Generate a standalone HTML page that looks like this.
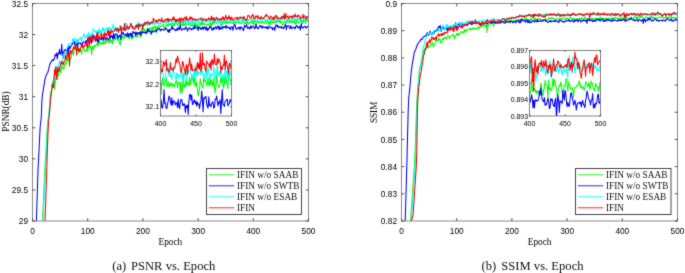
<!DOCTYPE html>
<html><head><meta charset="utf-8"><style>
html,body{margin:0;padding:0;background:#fff;}
body{width:685px;height:273px;overflow:hidden;}
svg{display:block;}
#w{width:685px;height:273px;will-change:transform;}
.s{font-family:"Liberation Sans",sans-serif;}
.t{font-family:"Liberation Serif",serif;}
</style></head><body><div id="w">
<svg width="685" height="273" viewBox="0 0 685 273">
<defs>
<clipPath id="cl"><rect x="32.5" y="3.5" width="276" height="217.5"/></clipPath>
<clipPath id="cr"><rect x="401.5" y="3.5" width="276" height="217.5"/></clipPath>
<clipPath id="cli"><rect x="160.5" y="50.5" width="71" height="65.5"/></clipPath>
<clipPath id="cri"><rect x="529.5" y="50.5" width="71" height="65.5"/></clipPath>
<filter id="soft" filterUnits="userSpaceOnUse" x="0" y="0" width="685" height="273" color-interpolation-filters="sRGB"><feConvolveMatrix order="3" kernelMatrix="0.0200 0.0800 0.0200 0.0800 0.6000 0.0800 0.0200 0.0800 0.0200" edgeMode="duplicate"/></filter>
</defs>
<rect width="685" height="273" fill="#fff"/>
<g filter="url(#soft)">
<rect width="685" height="273" fill="#fff"/>

<g clip-path="url(#cl)" fill="none" stroke-width="1.05" stroke-linejoin="round">
<polyline stroke="#00ff00" points="33.05,430.51 33.60,418.10 34.16,406.16 34.71,393.46 35.26,381.69 35.81,369.42 36.36,357.04 36.92,344.44 37.47,331.82 38.02,319.65 38.57,308.26 39.12,295.97 39.68,283.75 40.23,271.19 40.78,259.59 41.33,246.52 41.88,234.79 42.44,222.63 42.99,210.64 43.54,198.34 44.09,185.70 44.64,173.46 45.20,163.69 45.75,154.41 46.30,144.56 46.85,135.25 47.40,126.22 47.96,121.03 48.51,118.03 49.06,114.12 49.61,110.08 50.16,96.12 50.72,92.84 51.27,90.75 51.82,89.38 52.37,83.40 52.92,84.48 53.48,85.16 54.03,81.41 54.58,89.31 55.13,83.81 55.68,79.09 56.24,78.17 56.79,78.83 57.34,78.30 57.89,75.68 58.44,75.86 59.00,70.48 59.55,69.79 60.10,68.69 60.65,73.24 61.20,67.23 61.76,69.30 62.31,66.08 62.86,67.88 63.41,67.09 63.96,69.09 64.52,64.36 65.07,64.61 65.62,62.24 66.17,64.29 66.72,59.46 67.28,58.86 67.83,60.79 68.38,58.25 68.93,55.92 69.48,64.57 70.04,60.42 70.59,59.04 71.14,58.28 71.69,54.52 72.24,52.57 72.80,51.13 73.35,55.07 73.90,51.40 74.45,46.73 75.00,48.00 75.56,48.92 76.11,50.40 76.66,46.36 77.21,48.65 77.76,46.34 78.32,48.45 78.87,53.30 79.42,51.12 79.97,48.18 80.52,50.62 81.08,51.35 81.63,54.20 82.18,49.49 82.73,50.00 83.28,47.10 83.84,49.09 84.39,49.05 84.94,51.36 85.49,50.80 86.04,51.80 86.60,49.74 87.15,47.18 87.70,51.12 88.25,47.81 88.80,45.59 89.36,44.82 89.91,47.67 90.46,48.09 91.01,45.45 91.56,54.80 92.12,47.31 92.67,46.77 93.22,49.88 93.77,46.12 94.32,45.54 94.88,47.12 95.43,45.99 95.98,44.70 96.53,44.60 97.08,43.57 97.64,46.02 98.19,39.38 98.74,45.16 99.29,38.60 99.84,42.83 100.40,43.99 100.95,42.57 101.50,42.77 102.05,44.08 102.60,42.24 103.16,44.14 103.71,41.35 104.26,43.86 104.81,42.24 105.36,42.92 105.92,41.15 106.47,42.10 107.02,40.42 107.57,39.71 108.12,42.27 108.68,43.11 109.23,42.26 109.78,40.53 110.33,37.91 110.88,42.52 111.44,40.43 111.99,40.83 112.54,43.90 113.09,39.83 113.64,40.66 114.20,36.75 114.75,35.58 115.30,39.77 115.85,37.98 116.40,38.27 116.96,39.02 117.51,35.44 118.06,41.02 118.61,37.64 119.16,41.26 119.72,44.00 120.27,45.14 120.82,40.08 121.37,40.32 121.92,36.15 122.48,35.52 123.03,38.75 123.58,36.00 124.13,36.84 124.68,37.97 125.24,37.21 125.79,35.43 126.34,35.36 126.89,36.44 127.44,36.24 128.00,38.17 128.55,35.39 129.10,38.44 129.65,38.52 130.20,35.68 130.76,36.43 131.31,34.40 131.86,36.57 132.41,38.72 132.96,36.88 133.52,37.29 134.07,36.35 134.62,35.66 135.17,35.39 135.72,36.66 136.28,37.49 136.83,36.53 137.38,36.84 137.93,33.47 138.48,34.14 139.04,32.30 139.59,34.68 140.14,37.40 140.69,34.96 141.24,30.28 141.80,27.97 142.35,29.81 142.90,30.22 143.45,29.16 144.00,29.02 144.56,29.27 145.11,33.87 145.66,30.11 146.21,31.57 146.76,31.70 147.32,28.34 147.87,31.84 148.42,29.28 148.97,28.88 149.52,29.36 150.08,28.27 150.63,27.58 151.18,31.16 151.73,31.92 152.28,27.06 152.84,31.29 153.39,28.95 153.94,26.53 154.49,27.94 155.04,26.18 155.60,28.27 156.15,27.17 156.70,33.28 157.25,26.39 157.80,28.64 158.36,27.79 158.91,25.61 159.46,25.96 160.01,26.32 160.56,26.88 161.12,26.22 161.67,25.86 162.22,24.84 162.77,25.12 163.32,24.57 163.88,27.08 164.43,28.45 164.98,27.39 165.53,26.04 166.08,25.40 166.64,24.38 167.19,24.25 167.74,27.02 168.29,25.02 168.84,23.55 169.40,24.10 169.95,25.41 170.50,23.63 171.05,24.70 171.60,24.45 172.16,27.01 172.71,26.44 173.26,23.79 173.81,26.34 174.36,23.31 174.92,24.44 175.47,22.24 176.02,22.25 176.57,22.63 177.12,22.84 177.68,26.25 178.23,23.99 178.78,23.55 179.33,22.63 179.88,25.74 180.44,24.56 180.99,24.99 181.54,23.67 182.09,25.06 182.64,25.32 183.20,21.22 183.75,26.02 184.30,25.49 184.85,23.99 185.40,23.26 185.96,25.09 186.51,24.75 187.06,25.09 187.61,24.65 188.16,24.67 188.72,23.36 189.27,22.13 189.82,22.83 190.37,26.07 190.92,24.93 191.48,24.58 192.03,25.84 192.58,24.35 193.13,27.15 193.68,24.88 194.24,24.62 194.79,24.24 195.34,22.34 195.89,25.16 196.44,26.41 197.00,23.93 197.55,27.38 198.10,25.93 198.65,26.96 199.20,24.74 199.76,24.02 200.31,23.18 200.86,25.64 201.41,23.31 201.96,20.49 202.52,24.59 203.07,22.97 203.62,23.03 204.17,24.86 204.72,23.63 205.28,23.90 205.83,24.46 206.38,25.12 206.93,25.39 207.48,24.26 208.04,24.83 208.59,24.46 209.14,25.48 209.69,23.31 210.24,24.72 210.80,22.29 211.35,25.86 211.90,25.16 212.45,22.34 213.00,23.84 213.56,20.62 214.11,23.44 214.66,20.07 215.21,22.29 215.76,21.44 216.32,23.15 216.87,23.02 217.42,22.92 217.97,23.07 218.52,21.57 219.08,19.94 219.63,19.38 220.18,22.75 220.73,26.45 221.28,23.85 221.84,24.62 222.39,24.36 222.94,22.54 223.49,22.77 224.04,21.49 224.60,22.88 225.15,23.61 225.70,22.38 226.25,20.82 226.80,23.69 227.36,23.26 227.91,21.70 228.46,22.37 229.01,23.27 229.56,23.19 230.12,22.29 230.67,21.70 231.22,22.96 231.77,23.04 232.32,22.44 232.88,22.43 233.43,24.17 233.98,21.91 234.53,22.81 235.08,23.61 235.64,22.14 236.19,21.13 236.74,22.38 237.29,22.63 237.84,22.28 238.40,22.77 238.95,21.26 239.50,23.42 240.05,22.36 240.60,22.86 241.16,23.65 241.71,23.40 242.26,23.13 242.81,22.35 243.36,21.97 243.92,21.71 244.47,22.82 245.02,22.45 245.57,24.06 246.12,22.81 246.68,23.60 247.23,21.58 247.78,21.54 248.33,24.38 248.88,23.08 249.44,23.03 249.99,21.72 250.54,21.77 251.09,22.27 251.64,21.91 252.20,23.51 252.75,21.57 253.30,20.69 253.85,25.06 254.40,21.91 254.96,20.42 255.51,21.83 256.06,22.68 256.61,21.75 257.16,21.51 257.72,20.32 258.27,22.81 258.82,22.68 259.37,21.55 259.92,22.98 260.48,22.90 261.03,21.80 261.58,22.48 262.13,21.89 262.68,22.95 263.24,22.14 263.79,22.35 264.34,22.92 264.89,21.98 265.44,21.16 266.00,21.48 266.55,23.14 267.10,21.64 267.65,21.76 268.20,21.81 268.76,24.82 269.31,21.48 269.86,23.91 270.41,24.36 270.96,19.11 271.52,23.02 272.07,22.37 272.62,23.08 273.17,20.60 273.72,22.61 274.28,21.76 274.83,21.72 275.38,22.62 275.93,20.27 276.48,22.33 277.04,21.60 277.59,20.01 278.14,21.15 278.69,20.44 279.24,22.23 279.80,18.71 280.35,22.89 280.90,22.60 281.45,21.47 282.00,23.50 282.56,25.40 283.11,24.60 283.66,23.35 284.21,20.66 284.76,22.08 285.32,22.29 285.87,22.99 286.42,23.18 286.97,19.79 287.52,21.42 288.08,21.12 288.63,21.53 289.18,22.66 289.73,21.99 290.28,20.49 290.84,22.42 291.39,22.62 291.94,20.92 292.49,22.35 293.04,20.88 293.60,22.02 294.15,22.83 294.70,20.38 295.25,23.25 295.80,24.58 296.36,21.89 296.91,19.33 297.46,22.30 298.01,22.40 298.56,23.12 299.12,22.78 299.67,22.02 300.22,20.16 300.77,21.66 301.32,20.57 301.88,22.45 302.43,23.36 302.98,20.45 303.53,22.16 304.08,19.89 304.64,21.97 305.19,21.90 305.74,23.51 306.29,18.55 306.84,19.85 307.40,20.71 307.95,21.57 308.50,21.82"/>
<polyline stroke="#0000ff" points="33.05,328.19 33.60,310.08 34.16,292.61 34.71,275.15 35.26,257.36 35.81,239.25 36.36,221.95 36.92,204.73 37.47,187.29 38.02,169.47 38.57,159.80 39.12,148.84 39.68,136.25 40.23,126.02 40.78,121.52 41.33,116.57 41.88,101.18 42.44,94.89 42.99,91.46 43.54,88.16 44.09,84.95 44.64,81.20 45.20,78.36 45.75,76.58 46.30,75.20 46.85,73.95 47.40,73.07 47.96,71.86 48.51,69.52 49.06,67.37 49.61,65.33 50.16,63.68 50.72,62.29 51.27,61.71 51.82,61.23 52.37,59.74 52.92,59.53 53.48,60.46 54.03,59.15 54.58,58.56 55.13,54.31 55.68,55.63 56.24,55.67 56.79,52.82 57.34,58.93 57.89,55.05 58.44,52.88 59.00,53.09 59.55,49.27 60.10,54.50 60.65,53.38 61.20,51.64 61.76,44.25 62.31,55.23 62.86,52.38 63.41,57.95 63.96,51.18 64.52,49.74 65.07,50.21 65.62,50.66 66.17,49.34 66.72,50.64 67.28,50.96 67.83,46.77 68.38,54.22 68.93,45.55 69.48,48.10 70.04,48.75 70.59,46.27 71.14,46.32 71.69,45.49 72.24,44.33 72.80,42.86 73.35,42.86 73.90,43.20 74.45,41.57 75.00,45.49 75.56,46.85 76.11,44.76 76.66,43.94 77.21,41.70 77.76,46.63 78.32,42.72 78.87,43.07 79.42,42.93 79.97,42.99 80.52,44.14 81.08,43.00 81.63,46.10 82.18,47.10 82.73,42.47 83.28,41.81 83.84,42.01 84.39,42.26 84.94,42.17 85.49,42.63 86.04,40.36 86.60,42.55 87.15,41.19 87.70,38.71 88.25,39.43 88.80,41.16 89.36,39.43 89.91,37.36 90.46,39.27 91.01,41.48 91.56,43.30 92.12,37.41 92.67,33.82 93.22,36.98 93.77,38.45 94.32,38.18 94.88,38.32 95.43,41.39 95.98,40.67 96.53,38.85 97.08,36.87 97.64,42.15 98.19,42.13 98.74,39.54 99.29,37.25 99.84,37.68 100.40,39.11 100.95,38.77 101.50,39.89 102.05,36.21 102.60,37.22 103.16,40.57 103.71,37.45 104.26,37.40 104.81,37.75 105.36,40.32 105.92,38.30 106.47,38.86 107.02,37.53 107.57,38.90 108.12,39.26 108.68,40.10 109.23,38.77 109.78,35.01 110.33,37.46 110.88,37.07 111.44,36.03 111.99,35.39 112.54,38.96 113.09,37.81 113.64,33.35 114.20,38.72 114.75,36.88 115.30,34.27 115.85,34.17 116.40,34.52 116.96,33.78 117.51,38.26 118.06,37.69 118.61,35.88 119.16,36.67 119.72,35.24 120.27,36.51 120.82,39.44 121.37,32.49 121.92,34.14 122.48,33.23 123.03,31.96 123.58,34.04 124.13,34.39 124.68,35.16 125.24,34.31 125.79,34.18 126.34,35.59 126.89,36.60 127.44,32.69 128.00,34.33 128.55,36.75 129.10,33.79 129.65,33.87 130.20,35.50 130.76,33.12 131.31,34.06 131.86,37.93 132.41,34.98 132.96,31.25 133.52,32.17 134.07,33.29 134.62,33.35 135.17,31.89 135.72,35.63 136.28,33.58 136.83,32.22 137.38,34.68 137.93,32.96 138.48,32.69 139.04,33.06 139.59,33.58 140.14,31.70 140.69,33.89 141.24,35.47 141.80,31.78 142.35,32.83 142.90,31.35 143.45,32.54 144.00,32.41 144.56,32.34 145.11,32.80 145.66,32.14 146.21,32.36 146.76,33.40 147.32,31.73 147.87,28.41 148.42,31.63 148.97,30.37 149.52,31.14 150.08,31.02 150.63,32.44 151.18,34.26 151.73,32.29 152.28,31.06 152.84,31.71 153.39,32.18 153.94,31.43 154.49,31.29 155.04,30.41 155.60,30.03 156.15,31.73 156.70,30.86 157.25,29.46 157.80,29.01 158.36,28.89 158.91,29.03 159.46,28.45 160.01,30.02 160.56,30.91 161.12,29.15 161.67,29.81 162.22,29.96 162.77,29.46 163.32,29.23 163.88,30.07 164.43,29.95 164.98,29.89 165.53,27.80 166.08,28.78 166.64,28.84 167.19,29.93 167.74,31.42 168.29,31.85 168.84,29.42 169.40,32.35 169.95,29.82 170.50,29.56 171.05,29.77 171.60,27.04 172.16,26.54 172.71,29.22 173.26,28.59 173.81,28.43 174.36,29.63 174.92,30.08 175.47,30.75 176.02,29.60 176.57,30.22 177.12,28.28 177.68,30.28 178.23,27.64 178.78,28.14 179.33,29.67 179.88,27.04 180.44,25.37 180.99,29.23 181.54,30.10 182.09,29.72 182.64,28.84 183.20,29.02 183.75,28.74 184.30,29.47 184.85,29.56 185.40,27.20 185.96,26.97 186.51,28.35 187.06,29.10 187.61,31.12 188.16,28.58 188.72,28.70 189.27,27.74 189.82,27.71 190.37,29.23 190.92,29.16 191.48,29.79 192.03,28.41 192.58,28.99 193.13,29.20 193.68,27.30 194.24,28.57 194.79,25.22 195.34,28.10 195.89,28.24 196.44,28.15 197.00,27.77 197.55,27.03 198.10,30.50 198.65,28.66 199.20,26.88 199.76,27.98 200.31,27.72 200.86,29.37 201.41,29.32 201.96,27.75 202.52,27.23 203.07,29.62 203.62,27.27 204.17,27.89 204.72,26.82 205.28,28.27 205.83,29.87 206.38,26.77 206.93,29.05 207.48,30.69 208.04,28.58 208.59,29.50 209.14,28.02 209.69,26.54 210.24,27.50 210.80,26.37 211.35,28.21 211.90,29.95 212.45,28.63 213.00,30.06 213.56,27.47 214.11,28.97 214.66,28.93 215.21,27.32 215.76,26.63 216.32,28.31 216.87,28.90 217.42,26.43 217.97,25.96 218.52,26.89 219.08,29.62 219.63,26.73 220.18,29.26 220.73,27.88 221.28,28.41 221.84,28.91 222.39,26.35 222.94,28.17 223.49,26.94 224.04,26.73 224.60,27.19 225.15,26.21 225.70,28.20 226.25,25.52 226.80,27.90 227.36,27.45 227.91,26.95 228.46,28.02 229.01,27.96 229.56,27.13 230.12,29.54 230.67,29.34 231.22,26.87 231.77,26.65 232.32,26.83 232.88,30.34 233.43,27.94 233.98,26.18 234.53,24.70 235.08,24.52 235.64,28.15 236.19,29.06 236.74,29.40 237.29,27.82 237.84,27.69 238.40,28.47 238.95,27.48 239.50,27.08 240.05,29.87 240.60,27.04 241.16,26.99 241.71,28.09 242.26,27.99 242.81,28.97 243.36,30.75 243.92,28.80 244.47,25.13 245.02,26.89 245.57,26.90 246.12,26.67 246.68,24.64 247.23,27.19 247.78,28.59 248.33,28.08 248.88,27.01 249.44,28.09 249.99,29.05 250.54,26.45 251.09,25.77 251.64,28.12 252.20,27.31 252.75,26.77 253.30,26.17 253.85,26.71 254.40,28.66 254.96,28.71 255.51,27.08 256.06,23.67 256.61,27.38 257.16,27.25 257.72,28.83 258.27,28.75 258.82,27.53 259.37,26.65 259.92,25.44 260.48,25.75 261.03,26.99 261.58,27.89 262.13,25.89 262.68,27.96 263.24,27.00 263.79,26.71 264.34,27.01 264.89,27.83 265.44,27.24 266.00,27.29 266.55,28.52 267.10,26.30 267.65,28.27 268.20,28.87 268.76,27.01 269.31,26.39 269.86,26.37 270.41,27.77 270.96,28.03 271.52,27.51 272.07,27.62 272.62,29.89 273.17,28.01 273.72,28.54 274.28,27.85 274.83,30.47 275.38,26.77 275.93,24.99 276.48,25.01 277.04,26.56 277.59,25.12 278.14,27.75 278.69,27.49 279.24,26.65 279.80,26.50 280.35,27.49 280.90,26.81 281.45,28.18 282.00,27.06 282.56,27.69 283.11,27.58 283.66,28.83 284.21,27.28 284.76,26.86 285.32,24.01 285.87,26.27 286.42,29.74 286.97,25.92 287.52,26.11 288.08,25.66 288.63,25.54 289.18,27.40 289.73,28.34 290.28,28.70 290.84,25.59 291.39,28.01 291.94,27.84 292.49,28.33 293.04,27.44 293.60,27.01 294.15,27.10 294.70,28.73 295.25,28.54 295.80,26.34 296.36,26.37 296.91,25.41 297.46,26.74 298.01,28.10 298.56,27.08 299.12,27.28 299.67,26.45 300.22,30.22 300.77,26.84 301.32,23.63 301.88,27.62 302.43,27.83 302.98,28.27 303.53,26.92 304.08,26.71 304.64,26.48 305.19,26.25 305.74,28.10 306.29,27.62 306.84,27.47 307.40,26.34 307.95,26.93 308.50,26.61"/>
<polyline stroke="#00ffff" points="33.05,414.49 33.60,403.63 34.16,392.26 34.71,382.02 35.26,370.70 35.81,360.02 36.36,348.80 36.92,338.63 37.47,327.31 38.02,316.78 38.57,305.81 39.12,295.21 39.68,284.33 40.23,273.44 40.78,263.05 41.33,251.61 41.88,240.85 42.44,229.91 42.99,218.72 43.54,208.16 44.09,197.89 44.64,186.78 45.20,175.70 45.75,165.31 46.30,155.57 46.85,143.41 47.40,129.90 47.96,122.16 48.51,115.67 49.06,109.55 49.61,105.30 50.16,101.47 50.72,96.87 51.27,93.63 51.82,90.24 52.37,81.08 52.92,85.22 53.48,82.31 54.03,77.06 54.58,73.54 55.13,78.96 55.68,77.62 56.24,66.01 56.79,69.52 57.34,67.80 57.89,68.17 58.44,64.41 59.00,63.30 59.55,60.58 60.10,63.36 60.65,66.20 61.20,67.60 61.76,61.44 62.31,61.12 62.86,59.15 63.41,53.79 63.96,53.33 64.52,56.87 65.07,57.97 65.62,52.51 66.17,52.87 66.72,49.22 67.28,47.06 67.83,47.33 68.38,44.26 68.93,44.36 69.48,44.33 70.04,43.22 70.59,44.06 71.14,43.98 71.69,42.97 72.24,41.66 72.80,38.65 73.35,42.29 73.90,38.48 74.45,38.83 75.00,38.68 75.56,42.73 76.11,41.30 76.66,39.29 77.21,43.22 77.76,39.17 78.32,41.53 78.87,39.96 79.42,39.00 79.97,37.53 80.52,37.41 81.08,39.80 81.63,41.02 82.18,36.99 82.73,37.51 83.28,37.00 83.84,33.44 84.39,35.38 84.94,35.94 85.49,38.32 86.04,36.53 86.60,36.85 87.15,34.82 87.70,36.88 88.25,33.14 88.80,32.65 89.36,36.42 89.91,35.59 90.46,34.64 91.01,34.74 91.56,36.45 92.12,35.52 92.67,31.94 93.22,28.90 93.77,30.26 94.32,30.57 94.88,31.57 95.43,32.27 95.98,30.56 96.53,32.75 97.08,33.16 97.64,31.64 98.19,30.39 98.74,34.35 99.29,28.80 99.84,33.24 100.40,30.27 100.95,33.41 101.50,32.34 102.05,30.25 102.60,27.45 103.16,30.96 103.71,28.30 104.26,30.86 104.81,35.79 105.36,29.13 105.92,29.42 106.47,28.82 107.02,27.38 107.57,30.49 108.12,31.19 108.68,27.51 109.23,27.57 109.78,29.98 110.33,28.09 110.88,29.60 111.44,31.80 111.99,28.28 112.54,28.76 113.09,23.96 113.64,26.96 114.20,29.37 114.75,28.36 115.30,31.03 115.85,28.43 116.40,31.19 116.96,31.82 117.51,29.34 118.06,28.53 118.61,29.52 119.16,28.55 119.72,25.61 120.27,31.15 120.82,26.71 121.37,26.56 121.92,27.86 122.48,29.09 123.03,30.74 123.58,27.05 124.13,24.71 124.68,24.86 125.24,25.41 125.79,23.36 126.34,26.78 126.89,29.41 127.44,23.82 128.00,30.44 128.55,28.59 129.10,29.05 129.65,27.96 130.20,26.22 130.76,23.50 131.31,23.49 131.86,25.10 132.41,26.81 132.96,26.93 133.52,27.12 134.07,26.86 134.62,27.15 135.17,25.65 135.72,25.99 136.28,24.94 136.83,25.80 137.38,25.33 137.93,21.72 138.48,24.66 139.04,25.05 139.59,23.57 140.14,26.03 140.69,24.11 141.24,26.54 141.80,25.41 142.35,25.57 142.90,23.36 143.45,25.38 144.00,25.03 144.56,25.10 145.11,22.47 145.66,24.91 146.21,24.19 146.76,23.17 147.32,25.54 147.87,25.23 148.42,23.51 148.97,24.30 149.52,24.09 150.08,22.18 150.63,22.77 151.18,23.97 151.73,23.82 152.28,24.31 152.84,22.99 153.39,19.95 153.94,22.56 154.49,24.71 155.04,22.81 155.60,23.28 156.15,23.31 156.70,23.03 157.25,23.59 157.80,22.79 158.36,23.23 158.91,24.39 159.46,22.90 160.01,22.94 160.56,23.82 161.12,24.03 161.67,20.90 162.22,20.56 162.77,21.92 163.32,21.24 163.88,22.77 164.43,22.99 164.98,21.97 165.53,23.24 166.08,22.45 166.64,21.06 167.19,22.15 167.74,18.59 168.29,23.06 168.84,21.60 169.40,21.25 169.95,20.97 170.50,20.17 171.05,20.40 171.60,24.17 172.16,25.05 172.71,21.61 173.26,22.57 173.81,20.34 174.36,20.10 174.92,20.49 175.47,21.16 176.02,20.70 176.57,23.09 177.12,22.56 177.68,21.19 178.23,23.09 178.78,19.51 179.33,21.80 179.88,19.24 180.44,20.02 180.99,21.77 181.54,20.82 182.09,23.35 182.64,21.90 183.20,21.52 183.75,20.86 184.30,20.41 184.85,22.79 185.40,21.49 185.96,20.12 186.51,22.64 187.06,22.30 187.61,20.80 188.16,20.68 188.72,21.58 189.27,24.17 189.82,23.39 190.37,22.02 190.92,24.00 191.48,20.53 192.03,21.65 192.58,24.52 193.13,22.30 193.68,23.73 194.24,21.97 194.79,18.72 195.34,20.34 195.89,19.12 196.44,21.93 197.00,21.80 197.55,21.27 198.10,20.16 198.65,23.96 199.20,22.34 199.76,22.56 200.31,19.38 200.86,19.87 201.41,19.96 201.96,20.74 202.52,18.78 203.07,18.44 203.62,21.09 204.17,20.79 204.72,21.59 205.28,20.44 205.83,19.93 206.38,20.80 206.93,22.27 207.48,20.55 208.04,21.51 208.59,20.70 209.14,21.27 209.69,21.02 210.24,21.89 210.80,19.39 211.35,20.58 211.90,21.81 212.45,20.41 213.00,20.90 213.56,17.79 214.11,19.89 214.66,19.14 215.21,21.83 215.76,22.50 216.32,18.18 216.87,18.25 217.42,19.69 217.97,20.99 218.52,22.26 219.08,21.34 219.63,21.66 220.18,21.08 220.73,23.77 221.28,20.24 221.84,22.26 222.39,21.70 222.94,21.02 223.49,21.55 224.04,19.32 224.60,20.84 225.15,19.90 225.70,21.24 226.25,20.28 226.80,20.77 227.36,19.59 227.91,21.03 228.46,20.93 229.01,22.19 229.56,22.37 230.12,19.44 230.67,18.81 231.22,20.46 231.77,20.76 232.32,20.01 232.88,20.25 233.43,22.07 233.98,20.64 234.53,21.41 235.08,20.46 235.64,20.49 236.19,20.14 236.74,19.24 237.29,20.22 237.84,19.71 238.40,19.74 238.95,20.61 239.50,23.44 240.05,19.08 240.60,18.32 241.16,19.00 241.71,20.80 242.26,21.12 242.81,17.43 243.36,18.99 243.92,21.48 244.47,19.11 245.02,19.75 245.57,21.48 246.12,19.54 246.68,19.69 247.23,18.72 247.78,20.01 248.33,19.70 248.88,20.05 249.44,19.01 249.99,19.63 250.54,18.99 251.09,21.00 251.64,18.50 252.20,21.06 252.75,20.73 253.30,19.62 253.85,19.17 254.40,18.36 254.96,18.01 255.51,19.86 256.06,21.12 256.61,21.20 257.16,20.41 257.72,17.25 258.27,17.31 258.82,16.31 259.37,18.61 259.92,20.03 260.48,18.35 261.03,20.11 261.58,19.81 262.13,21.01 262.68,18.12 263.24,17.80 263.79,19.04 264.34,19.44 264.89,20.42 265.44,21.01 266.00,19.16 266.55,19.28 267.10,20.66 267.65,19.80 268.20,19.53 268.76,20.21 269.31,19.48 269.86,18.41 270.41,20.83 270.96,21.98 271.52,20.29 272.07,19.75 272.62,19.24 273.17,18.43 273.72,20.63 274.28,19.58 274.83,19.00 275.38,18.28 275.93,18.88 276.48,18.89 277.04,19.66 277.59,19.70 278.14,21.06 278.69,19.36 279.24,19.04 279.80,20.23 280.35,17.03 280.90,19.53 281.45,17.76 282.00,20.08 282.56,18.61 283.11,19.29 283.66,19.39 284.21,19.53 284.76,18.29 285.32,19.36 285.87,18.55 286.42,18.99 286.97,20.65 287.52,19.67 288.08,19.53 288.63,17.85 289.18,20.86 289.73,19.11 290.28,17.40 290.84,18.94 291.39,21.26 291.94,20.32 292.49,19.29 293.04,19.97 293.60,19.73 294.15,19.83 294.70,17.48 295.25,18.96 295.80,20.84 296.36,19.92 296.91,19.50 297.46,16.23 298.01,19.69 298.56,19.99 299.12,18.77 299.67,19.63 300.22,18.72 300.77,19.23 301.32,20.50 301.88,19.47 302.43,21.17 302.98,20.31 303.53,17.79 304.08,19.67 304.64,18.68 305.19,18.94 305.74,22.55 306.29,16.93 306.84,19.35 307.40,19.81 307.95,19.40 308.50,18.21"/>
<polyline stroke="#ff0000" points="33.05,559.99 33.60,544.12 34.16,528.81 34.71,512.45 35.26,497.16 35.81,480.97 36.36,466.11 36.92,450.47 37.47,434.31 38.02,418.35 38.57,403.26 39.12,387.74 39.68,371.99 40.23,356.78 40.78,340.97 41.33,324.81 41.88,309.60 42.44,293.65 42.99,278.31 43.54,262.24 44.09,246.73 44.64,230.94 45.20,215.36 45.75,199.91 46.30,184.26 46.85,167.88 47.40,149.49 47.96,134.01 48.51,123.56 49.06,116.80 49.61,111.65 50.16,104.72 50.72,98.02 51.27,93.65 51.82,90.15 52.37,84.31 52.92,84.62 53.48,87.58 54.03,78.79 54.58,69.83 55.13,74.39 55.68,66.70 56.24,70.09 56.79,79.64 57.34,73.14 57.89,67.10 58.44,70.69 59.00,71.75 59.55,68.01 60.10,66.03 60.65,65.01 61.20,61.30 61.76,63.06 62.31,64.01 62.86,62.07 63.41,64.64 63.96,61.59 64.52,61.28 65.07,60.15 65.62,55.82 66.17,59.29 66.72,58.29 67.28,51.39 67.83,55.96 68.38,56.58 68.93,53.42 69.48,66.09 70.04,50.77 70.59,50.46 71.14,53.55 71.69,51.38 72.24,50.96 72.80,50.06 73.35,47.00 73.90,48.87 74.45,48.69 75.00,46.57 75.56,43.89 76.11,48.16 76.66,55.09 77.21,49.31 77.76,46.84 78.32,50.55 78.87,51.00 79.42,48.98 79.97,51.58 80.52,48.10 81.08,46.37 81.63,44.40 82.18,45.78 82.73,47.28 83.28,45.73 83.84,47.60 84.39,45.84 84.94,44.68 85.49,42.55 86.04,43.29 86.60,46.19 87.15,43.69 87.70,47.70 88.25,36.48 88.80,39.70 89.36,44.67 89.91,43.08 90.46,37.36 91.01,35.83 91.56,40.00 92.12,38.57 92.67,41.40 93.22,39.15 93.77,35.25 94.32,37.74 94.88,35.95 95.43,41.25 95.98,40.38 96.53,33.99 97.08,38.59 97.64,32.16 98.19,36.59 98.74,38.09 99.29,38.13 99.84,36.14 100.40,36.44 100.95,34.35 101.50,33.14 102.05,37.73 102.60,37.45 103.16,36.47 103.71,34.25 104.26,32.90 104.81,38.84 105.36,34.26 105.92,33.55 106.47,34.06 107.02,36.15 107.57,29.95 108.12,31.09 108.68,35.72 109.23,31.21 109.78,33.18 110.33,35.20 110.88,30.32 111.44,31.67 111.99,32.91 112.54,31.40 113.09,30.84 113.64,31.31 114.20,31.30 114.75,30.42 115.30,30.01 115.85,27.83 116.40,30.27 116.96,30.10 117.51,27.94 118.06,30.85 118.61,32.44 119.16,29.34 119.72,29.56 120.27,29.73 120.82,25.80 121.37,31.90 121.92,28.93 122.48,28.46 123.03,27.98 123.58,28.39 124.13,30.42 124.68,23.36 125.24,30.66 125.79,29.40 126.34,29.08 126.89,26.40 127.44,27.67 128.00,26.62 128.55,28.77 129.10,28.80 129.65,26.87 130.20,26.75 130.76,23.30 131.31,24.72 131.86,26.29 132.41,28.39 132.96,26.63 133.52,28.69 134.07,29.16 134.62,29.55 135.17,28.90 135.72,25.68 136.28,27.44 136.83,24.86 137.38,26.73 137.93,24.52 138.48,29.44 139.04,25.13 139.59,24.20 140.14,26.29 140.69,25.60 141.24,24.85 141.80,24.99 142.35,25.66 142.90,29.35 143.45,24.14 144.00,25.33 144.56,22.77 145.11,24.35 145.66,22.11 146.21,22.84 146.76,22.93 147.32,23.64 147.87,21.26 148.42,22.47 148.97,22.56 149.52,24.69 150.08,23.16 150.63,23.80 151.18,21.90 151.73,22.08 152.28,23.02 152.84,22.45 153.39,18.05 153.94,20.02 154.49,20.17 155.04,20.12 155.60,22.04 156.15,21.89 156.70,20.24 157.25,22.00 157.80,22.06 158.36,19.39 158.91,20.27 159.46,19.63 160.01,20.34 160.56,21.32 161.12,20.77 161.67,17.77 162.22,20.46 162.77,22.03 163.32,22.05 163.88,20.90 164.43,19.88 164.98,20.94 165.53,19.55 166.08,19.32 166.64,19.92 167.19,18.56 167.74,20.78 168.29,18.51 168.84,21.55 169.40,19.60 169.95,19.52 170.50,19.34 171.05,19.96 171.60,20.49 172.16,20.10 172.71,17.54 173.26,19.60 173.81,16.68 174.36,19.45 174.92,19.19 175.47,21.77 176.02,19.25 176.57,21.53 177.12,19.40 177.68,20.62 178.23,19.83 178.78,20.39 179.33,18.08 179.88,20.65 180.44,23.10 180.99,17.76 181.54,19.78 182.09,18.50 182.64,19.52 183.20,21.21 183.75,18.57 184.30,17.90 184.85,17.00 185.40,19.91 185.96,20.02 186.51,16.52 187.06,19.38 187.61,19.29 188.16,20.43 188.72,20.58 189.27,19.27 189.82,17.15 190.37,19.74 190.92,16.81 191.48,18.24 192.03,17.72 192.58,20.71 193.13,19.05 193.68,19.11 194.24,18.80 194.79,19.68 195.34,19.38 195.89,20.37 196.44,20.53 197.00,19.52 197.55,19.30 198.10,19.14 198.65,18.91 199.20,19.17 199.76,18.88 200.31,19.07 200.86,19.46 201.41,17.69 201.96,19.18 202.52,19.68 203.07,20.68 203.62,19.05 204.17,19.05 204.72,18.76 205.28,19.37 205.83,21.27 206.38,19.73 206.93,19.24 207.48,19.58 208.04,19.51 208.59,17.71 209.14,19.13 209.69,19.60 210.24,18.80 210.80,19.85 211.35,15.96 211.90,19.32 212.45,17.79 213.00,19.88 213.56,17.49 214.11,18.87 214.66,20.39 215.21,20.00 215.76,18.39 216.32,17.16 216.87,17.69 217.42,19.69 217.97,18.81 218.52,19.70 219.08,19.11 219.63,19.13 220.18,18.73 220.73,19.69 221.28,18.43 221.84,20.22 222.39,17.80 222.94,16.50 223.49,19.12 224.04,18.12 224.60,19.98 225.15,18.05 225.70,15.01 226.25,17.31 226.80,18.95 227.36,17.54 227.91,19.29 228.46,17.57 229.01,15.58 229.56,18.66 230.12,17.43 230.67,20.25 231.22,17.76 231.77,17.05 232.32,19.18 232.88,20.22 233.43,19.74 233.98,19.29 234.53,18.33 235.08,18.11 235.64,17.89 236.19,18.57 236.74,17.51 237.29,17.32 237.84,19.84 238.40,18.58 238.95,17.81 239.50,18.19 240.05,16.81 240.60,18.05 241.16,17.83 241.71,17.36 242.26,17.27 242.81,17.67 243.36,19.00 243.92,16.41 244.47,17.43 245.02,19.58 245.57,19.41 246.12,19.43 246.68,20.73 247.23,17.62 247.78,15.54 248.33,15.69 248.88,15.32 249.44,16.91 249.99,17.17 250.54,17.06 251.09,18.05 251.64,17.18 252.20,14.51 252.75,15.87 253.30,14.92 253.85,18.84 254.40,18.34 254.96,18.73 255.51,15.97 256.06,16.25 256.61,17.22 257.16,16.59 257.72,15.44 258.27,18.58 258.82,17.91 259.37,18.26 259.92,18.94 260.48,18.56 261.03,16.27 261.58,18.18 262.13,17.94 262.68,18.25 263.24,18.46 263.79,17.47 264.34,17.78 264.89,16.50 265.44,15.26 266.00,16.33 266.55,14.48 267.10,15.33 267.65,16.22 268.20,16.50 268.76,18.11 269.31,19.01 269.86,18.10 270.41,15.95 270.96,16.37 271.52,17.53 272.07,18.43 272.62,19.57 273.17,17.38 273.72,16.82 274.28,19.42 274.83,16.93 275.38,16.98 275.93,14.96 276.48,16.52 277.04,18.48 277.59,16.70 278.14,18.35 278.69,18.54 279.24,18.38 279.80,18.21 280.35,17.94 280.90,18.56 281.45,17.80 282.00,16.20 282.56,17.97 283.11,16.57 283.66,18.08 284.21,13.62 284.76,18.70 285.32,18.08 285.87,13.60 286.42,16.91 286.97,16.74 287.52,16.50 288.08,18.28 288.63,18.66 289.18,15.79 289.73,16.34 290.28,16.54 290.84,16.81 291.39,17.49 291.94,16.06 292.49,18.34 293.04,15.64 293.60,15.47 294.15,16.94 294.70,16.25 295.25,13.96 295.80,16.74 296.36,16.78 296.91,16.82 297.46,15.19 298.01,16.49 298.56,15.22 299.12,15.90 299.67,16.06 300.22,18.88 300.77,17.43 301.32,18.10 301.88,16.99 302.43,17.07 302.98,14.23 303.53,18.13 304.08,16.13 304.64,15.75 305.19,17.09 305.74,18.43 306.29,19.33 306.84,16.45 307.40,16.50 307.95,17.64 308.50,18.13"/>
</g>
<rect x="32.5" y="3.5" width="276.0" height="217.5" fill="none" stroke="#8a8a8a" stroke-width="1"/>
<path d="M32.5,221.00h2.8M308.5,221.00h-2.8M32.5,189.93h2.8M308.5,189.93h-2.8M32.5,158.86h2.8M308.5,158.86h-2.8M32.5,127.79h2.8M308.5,127.79h-2.8M32.5,96.71h2.8M308.5,96.71h-2.8M32.5,65.64h2.8M308.5,65.64h-2.8M32.5,34.57h2.8M308.5,34.57h-2.8M32.5,3.50h2.8M308.5,3.50h-2.8M32.50,221.0v-2.8M32.50,3.5v2.8M87.70,221.0v-2.8M87.70,3.5v2.8M142.90,221.0v-2.8M142.90,3.5v2.8M198.10,221.0v-2.8M198.10,3.5v2.8M253.30,221.0v-2.8M253.30,3.5v2.8M308.50,221.0v-2.8M308.50,3.5v2.8" stroke="#404040" stroke-width="0.9" fill="none"/>
<text class="s" transform="translate(28.00,224.15) scale(1,1.07)" font-size="8.3" text-anchor="end" fill="#000000">29</text>
<text class="s" transform="translate(28.00,193.08) scale(1,1.07)" font-size="8.3" text-anchor="end" fill="#000000">29.5</text>
<text class="s" transform="translate(28.00,162.01) scale(1,1.07)" font-size="8.3" text-anchor="end" fill="#000000">30</text>
<text class="s" transform="translate(28.00,130.94) scale(1,1.07)" font-size="8.3" text-anchor="end" fill="#000000">30.5</text>
<text class="s" transform="translate(28.00,99.86) scale(1,1.07)" font-size="8.3" text-anchor="end" fill="#000000">31</text>
<text class="s" transform="translate(28.00,68.79) scale(1,1.07)" font-size="8.3" text-anchor="end" fill="#000000">31.5</text>
<text class="s" transform="translate(28.00,37.72) scale(1,1.07)" font-size="8.3" text-anchor="end" fill="#000000">32</text>
<text class="s" transform="translate(28.00,6.65) scale(1,1.07)" font-size="8.3" text-anchor="end" fill="#000000">32.5</text>
<text class="s" transform="translate(32.50,233.5) scale(1,1.07)" font-size="8.3" text-anchor="middle" fill="#000000">0</text>
<text class="s" transform="translate(87.70,233.5) scale(1,1.07)" font-size="8.3" text-anchor="middle" fill="#000000">100</text>
<text class="s" transform="translate(142.90,233.5) scale(1,1.07)" font-size="8.3" text-anchor="middle" fill="#000000">200</text>
<text class="s" transform="translate(198.10,233.5) scale(1,1.07)" font-size="8.3" text-anchor="middle" fill="#000000">300</text>
<text class="s" transform="translate(253.30,233.5) scale(1,1.07)" font-size="8.3" text-anchor="middle" fill="#000000">400</text>
<text class="s" transform="translate(308.50,233.5) scale(1,1.07)" font-size="8.3" text-anchor="middle" fill="#000000">500</text>
<g clip-path="url(#cr)" fill="none" stroke-width="1.05" stroke-linejoin="round">
<polyline stroke="#00ff00" points="402.05,340.85 402.60,333.09 403.16,325.30 403.71,317.54 404.26,310.08 404.81,301.87 405.36,294.01 405.92,286.14 406.47,278.27 407.02,270.39 407.57,262.64 408.12,254.69 408.68,246.91 409.23,238.92 409.78,231.24 410.33,223.27 410.88,215.43 411.44,207.91 411.99,200.11 412.54,192.14 413.09,184.54 413.64,176.34 414.20,168.35 414.75,160.88 415.30,145.77 415.85,130.05 416.40,114.06 416.96,99.26 417.51,92.64 418.06,84.43 418.61,80.30 419.16,71.22 419.72,67.65 420.27,65.61 420.82,64.49 421.37,62.45 421.92,59.66 422.48,59.04 423.03,53.89 423.58,51.90 424.13,49.77 424.68,48.62 425.24,50.30 425.79,49.89 426.34,46.20 426.89,45.71 427.44,47.84 428.00,47.92 428.55,45.69 429.10,47.21 429.65,46.31 430.20,45.78 430.76,44.55 431.31,45.04 431.86,43.83 432.41,42.36 432.96,45.64 433.52,46.91 434.07,45.62 434.62,44.07 435.17,42.70 435.72,40.31 436.28,39.88 436.83,40.29 437.38,41.73 437.93,39.23 438.48,38.60 439.04,40.38 439.59,38.68 440.14,39.23 440.69,42.66 441.24,42.92 441.80,42.96 442.35,38.70 442.90,38.33 443.45,39.39 444.00,38.45 444.56,37.51 445.11,38.42 445.66,37.31 446.21,38.44 446.76,39.18 447.32,35.71 447.87,35.98 448.42,35.88 448.97,36.00 449.52,38.92 450.08,36.36 450.63,36.24 451.18,35.93 451.73,35.51 452.28,34.86 452.84,35.23 453.39,34.32 453.94,36.44 454.49,38.68 455.04,36.05 455.60,36.10 456.15,35.36 456.70,33.61 457.25,33.25 457.80,35.85 458.36,33.45 458.91,34.43 459.46,34.13 460.01,34.02 460.56,31.64 461.12,32.11 461.67,31.81 462.22,31.98 462.77,32.71 463.32,33.21 463.88,31.54 464.43,29.75 464.98,32.53 465.53,30.89 466.08,29.26 466.64,30.60 467.19,30.24 467.74,29.84 468.29,28.90 468.84,29.09 469.40,29.00 469.95,29.62 470.50,28.12 471.05,29.78 471.60,30.05 472.16,29.03 472.71,28.06 473.26,27.86 473.81,29.41 474.36,28.56 474.92,28.84 475.47,27.75 476.02,28.42 476.57,28.73 477.12,28.51 477.68,27.70 478.23,26.55 478.78,29.35 479.33,27.35 479.88,27.59 480.44,27.08 480.99,27.36 481.54,26.17 482.09,26.93 482.64,25.45 483.20,24.07 483.75,25.94 484.30,25.07 484.85,24.96 485.40,26.87 485.96,25.90 486.51,25.02 487.06,32.63 487.61,25.54 488.16,26.53 488.72,22.94 489.27,23.21 489.82,23.09 490.37,24.38 490.92,24.00 491.48,21.99 492.03,23.53 492.58,23.90 493.13,23.56 493.68,26.61 494.24,23.15 494.79,21.47 495.34,23.54 495.89,23.32 496.44,23.43 497.00,23.34 497.55,23.38 498.10,21.87 498.65,22.27 499.20,22.06 499.76,22.02 500.31,23.22 500.86,22.79 501.41,23.46 501.96,22.20 502.52,21.56 503.07,21.05 503.62,21.96 504.17,22.65 504.72,20.64 505.28,21.21 505.83,21.36 506.38,21.98 506.93,21.03 507.48,20.10 508.04,21.57 508.59,20.08 509.14,19.62 509.69,21.37 510.24,21.05 510.80,20.91 511.35,20.96 511.90,20.37 512.45,21.25 513.00,21.23 513.56,20.62 514.11,20.88 514.66,20.98 515.21,20.50 515.76,20.19 516.32,20.37 516.87,19.69 517.42,21.17 517.97,19.95 518.52,19.74 519.08,19.52 519.63,19.82 520.18,19.95 520.73,21.65 521.28,19.80 521.84,19.24 522.39,19.10 522.94,19.87 523.49,19.69 524.04,20.23 524.60,17.85 525.15,18.38 525.70,19.11 526.25,19.75 526.80,18.29 527.36,19.72 527.91,20.13 528.46,19.55 529.01,21.31 529.56,20.71 530.12,20.78 530.67,18.81 531.22,20.91 531.77,18.89 532.32,18.30 532.88,17.19 533.43,16.85 533.98,19.03 534.53,20.87 535.08,18.47 535.64,18.46 536.19,19.33 536.74,19.02 537.29,19.44 537.84,19.68 538.40,19.10 538.95,19.20 539.50,18.25 540.05,19.03 540.60,20.11 541.16,19.60 541.71,19.54 542.26,19.78 542.81,20.21 543.36,19.55 543.92,20.67 544.47,20.09 545.02,19.66 545.57,18.52 546.12,20.39 546.68,20.44 547.23,19.25 547.78,19.88 548.33,19.98 548.88,17.64 549.44,18.51 549.99,18.20 550.54,18.43 551.09,17.77 551.64,18.70 552.20,18.00 552.75,18.81 553.30,18.16 553.85,19.41 554.40,20.28 554.96,19.90 555.51,19.44 556.06,17.94 556.61,18.90 557.16,19.19 557.72,18.94 558.27,19.18 558.82,19.02 559.37,18.70 559.92,18.35 560.48,18.95 561.03,17.99 561.58,19.24 562.13,19.27 562.68,18.77 563.24,18.19 563.79,18.08 564.34,18.79 564.89,18.63 565.44,19.84 566.00,19.47 566.55,17.59 567.10,17.92 567.65,18.90 568.20,19.40 568.76,20.52 569.31,18.82 569.86,17.94 570.41,17.21 570.96,18.40 571.52,19.18 572.07,18.76 572.62,18.17 573.17,18.21 573.72,19.42 574.28,19.31 574.83,18.51 575.38,19.41 575.93,19.81 576.48,19.06 577.04,18.93 577.59,18.37 578.14,18.91 578.69,19.36 579.24,19.35 579.80,18.37 580.35,19.13 580.90,18.75 581.45,17.84 582.00,18.94 582.56,18.67 583.11,18.82 583.66,18.43 584.21,18.96 584.76,16.93 585.32,16.97 585.87,18.01 586.42,19.75 586.97,19.19 587.52,20.34 588.08,20.08 588.63,18.93 589.18,18.80 589.73,19.11 590.28,19.46 590.84,19.72 591.39,18.98 591.94,17.93 592.49,18.66 593.04,19.51 593.60,18.20 594.15,18.46 594.70,18.86 595.25,18.82 595.80,18.65 596.36,18.21 596.91,18.79 597.46,18.42 598.01,20.68 598.56,18.45 599.12,18.88 599.67,17.97 600.22,21.71 600.77,17.37 601.32,18.58 601.88,18.89 602.43,18.42 602.98,17.79 603.53,18.56 604.08,18.42 604.64,19.02 605.19,18.19 605.74,19.91 606.29,18.43 606.84,18.16 607.40,18.85 607.95,19.23 608.50,18.04 609.05,19.80 609.60,19.15 610.16,18.42 610.71,18.65 611.26,18.03 611.81,18.27 612.36,18.40 612.92,18.06 613.47,18.44 614.02,18.77 614.57,17.94 615.12,17.13 615.68,17.66 616.23,18.43 616.78,18.51 617.33,18.43 617.88,17.60 618.44,18.48 618.99,18.10 619.54,19.33 620.09,19.26 620.64,18.93 621.20,17.53 621.75,17.76 622.30,19.48 622.85,18.62 623.40,18.36 623.96,16.41 624.51,18.05 625.06,18.53 625.61,17.84 626.16,18.10 626.72,18.07 627.27,18.71 627.82,18.31 628.37,18.84 628.92,18.47 629.48,18.45 630.03,18.69 630.58,18.27 631.13,17.04 631.68,17.83 632.24,18.97 632.79,19.10 633.34,18.04 633.89,18.03 634.44,16.60 635.00,17.33 635.55,17.39 636.10,17.58 636.65,19.69 637.20,16.60 637.76,18.14 638.31,17.89 638.86,18.27 639.41,18.28 639.96,17.52 640.52,16.29 641.07,17.63 641.62,16.45 642.17,16.95 642.72,17.72 643.28,17.81 643.83,19.29 644.38,18.84 644.93,17.96 645.48,17.37 646.04,17.57 646.59,16.89 647.14,17.33 647.69,18.74 648.24,18.30 648.80,18.25 649.35,17.42 649.90,17.59 650.45,16.76 651.00,16.27 651.56,17.14 652.11,18.41 652.66,16.91 653.21,17.26 653.76,17.45 654.32,18.06 654.87,18.09 655.42,17.84 655.97,18.25 656.52,19.41 657.08,17.81 657.63,17.89 658.18,17.82 658.73,17.72 659.28,17.40 659.84,17.49 660.39,17.22 660.94,16.69 661.49,17.04 662.04,17.80 662.60,17.49 663.15,18.01 663.70,17.76 664.25,17.73 664.80,18.24 665.36,17.94 665.91,16.89 666.46,16.97 667.01,17.16 667.56,17.73 668.12,17.28 668.67,16.99 669.22,18.19 669.77,17.48 670.32,16.71 670.88,17.22 671.43,17.13 671.98,18.09 672.53,18.04 673.08,18.43 673.64,17.14 674.19,17.43 674.74,17.67 675.29,17.81 675.84,18.46 676.40,17.66 676.95,17.35 677.50,18.67"/>
<polyline stroke="#0000ff" points="402.05,327.46 402.60,308.80 403.16,290.22 403.71,271.56 404.26,253.04 404.81,234.07 405.36,215.22 405.92,196.75 406.47,178.02 407.02,158.82 407.57,134.87 408.12,113.44 408.68,98.31 409.23,93.46 409.78,88.35 410.33,82.44 410.88,75.55 411.44,69.88 411.99,66.32 412.54,62.32 413.09,59.99 413.64,56.09 414.20,52.98 414.75,51.22 415.30,50.14 415.85,49.22 416.40,47.33 416.96,46.08 417.51,44.32 418.06,43.44 418.61,43.02 419.16,41.93 419.72,41.46 420.27,40.63 420.82,39.31 421.37,39.13 421.92,39.67 422.48,38.50 423.03,37.38 423.58,36.73 424.13,36.46 424.68,36.49 425.24,35.79 425.79,35.10 426.34,35.69 426.89,33.25 427.44,32.76 428.00,33.34 428.55,35.21 429.10,33.27 429.65,32.52 430.20,31.06 430.76,33.48 431.31,34.32 431.86,33.84 432.41,32.56 432.96,32.28 433.52,34.04 434.07,33.37 434.62,30.58 435.17,30.76 435.72,31.48 436.28,29.89 436.83,30.21 437.38,30.03 437.93,28.81 438.48,26.63 439.04,27.53 439.59,27.03 440.14,25.29 440.69,29.92 441.24,31.25 441.80,29.09 442.35,26.51 442.90,26.56 443.45,27.31 444.00,29.06 444.56,27.81 445.11,29.37 445.66,28.92 446.21,27.87 446.76,28.12 447.32,30.90 447.87,27.87 448.42,27.48 448.97,26.36 449.52,28.64 450.08,27.89 450.63,26.15 451.18,27.45 451.73,26.45 452.28,26.36 452.84,26.28 453.39,28.02 453.94,24.90 454.49,25.75 455.04,26.05 455.60,22.78 456.15,25.80 456.70,28.78 457.25,27.24 457.80,26.00 458.36,24.51 458.91,23.27 459.46,24.30 460.01,23.85 460.56,23.64 461.12,24.38 461.67,25.55 462.22,23.78 462.77,24.55 463.32,24.71 463.88,25.57 464.43,24.64 464.98,24.45 465.53,23.80 466.08,24.31 466.64,24.79 467.19,25.79 467.74,21.92 468.29,24.17 468.84,22.56 469.40,20.88 469.95,23.34 470.50,23.87 471.05,23.13 471.60,24.64 472.16,24.59 472.71,21.21 473.26,23.19 473.81,22.06 474.36,22.79 474.92,23.12 475.47,22.75 476.02,23.44 476.57,23.16 477.12,22.27 477.68,22.10 478.23,22.42 478.78,22.71 479.33,23.98 479.88,24.99 480.44,24.20 480.99,23.64 481.54,24.99 482.09,22.76 482.64,22.20 483.20,23.14 483.75,23.60 484.30,23.00 484.85,23.15 485.40,23.12 485.96,22.89 486.51,23.09 487.06,24.27 487.61,23.29 488.16,22.84 488.72,21.83 489.27,22.42 489.82,21.41 490.37,22.28 490.92,22.18 491.48,23.51 492.03,22.53 492.58,22.21 493.13,22.72 493.68,22.11 494.24,22.02 494.79,22.15 495.34,23.16 495.89,22.86 496.44,21.47 497.00,21.88 497.55,22.65 498.10,22.88 498.65,23.23 499.20,22.27 499.76,22.73 500.31,22.72 500.86,20.68 501.41,21.83 501.96,21.50 502.52,21.72 503.07,21.92 503.62,21.77 504.17,23.24 504.72,22.95 505.28,23.09 505.83,22.24 506.38,21.38 506.93,22.06 507.48,22.04 508.04,22.45 508.59,22.03 509.14,22.04 509.69,21.30 510.24,22.67 510.80,21.28 511.35,21.48 511.90,21.27 512.45,22.00 513.00,22.92 513.56,21.77 514.11,22.09 514.66,21.76 515.21,21.28 515.76,22.95 516.32,21.76 516.87,21.33 517.42,20.34 517.97,20.66 518.52,21.34 519.08,22.83 519.63,22.08 520.18,19.73 520.73,22.70 521.28,19.60 521.84,19.01 522.39,19.75 522.94,21.02 523.49,21.04 524.04,20.84 524.60,20.88 525.15,20.39 525.70,22.40 526.25,20.87 526.80,20.21 527.36,20.29 527.91,22.80 528.46,21.67 529.01,20.08 529.56,22.83 530.12,22.75 530.67,22.27 531.22,22.01 531.77,22.26 532.32,20.88 532.88,20.77 533.43,21.16 533.98,21.50 534.53,22.10 535.08,20.39 535.64,20.76 536.19,21.48 536.74,21.70 537.29,19.46 537.84,21.54 538.40,20.98 538.95,21.53 539.50,21.25 540.05,20.95 540.60,20.45 541.16,21.42 541.71,20.97 542.26,20.85 542.81,21.23 543.36,20.64 543.92,19.94 544.47,20.27 545.02,20.59 545.57,20.12 546.12,21.43 546.68,21.35 547.23,21.88 547.78,22.43 548.33,22.30 548.88,21.69 549.44,21.05 549.99,21.51 550.54,20.47 551.09,22.06 551.64,21.13 552.20,21.03 552.75,21.19 553.30,21.58 553.85,21.40 554.40,20.66 554.96,21.60 555.51,20.22 556.06,20.95 556.61,21.48 557.16,21.77 557.72,21.14 558.27,21.63 558.82,22.59 559.37,19.87 559.92,20.43 560.48,20.48 561.03,20.31 561.58,21.36 562.13,21.41 562.68,21.22 563.24,22.27 563.79,21.31 564.34,21.90 564.89,21.93 565.44,21.12 566.00,20.53 566.55,20.68 567.10,20.52 567.65,21.03 568.20,21.05 568.76,19.81 569.31,20.52 569.86,21.38 570.41,21.25 570.96,21.42 571.52,20.59 572.07,20.72 572.62,20.17 573.17,21.09 573.72,22.27 574.28,20.78 574.83,19.95 575.38,21.31 575.93,20.63 576.48,20.28 577.04,19.43 577.59,21.40 578.14,21.95 578.69,20.19 579.24,19.74 579.80,20.00 580.35,20.53 580.90,22.14 581.45,21.15 582.00,20.72 582.56,20.20 583.11,21.11 583.66,20.05 584.21,20.64 584.76,20.01 585.32,21.09 585.87,20.42 586.42,20.58 586.97,23.48 587.52,20.20 588.08,18.52 588.63,19.46 589.18,20.61 589.73,19.89 590.28,20.82 590.84,20.17 591.39,19.87 591.94,20.07 592.49,21.81 593.04,20.42 593.60,21.04 594.15,20.41 594.70,21.37 595.25,19.93 595.80,21.15 596.36,20.00 596.91,18.93 597.46,19.31 598.01,19.74 598.56,19.41 599.12,20.23 599.67,19.29 600.22,20.79 600.77,20.11 601.32,19.90 601.88,19.99 602.43,18.93 602.98,20.11 603.53,21.69 604.08,19.82 604.64,21.08 605.19,21.32 605.74,20.73 606.29,20.94 606.84,19.30 607.40,19.19 607.95,20.56 608.50,19.82 609.05,20.46 609.60,20.58 610.16,20.07 610.71,20.34 611.26,21.50 611.81,21.70 612.36,19.62 612.92,18.74 613.47,20.40 614.02,20.88 614.57,20.33 615.12,19.80 615.68,20.36 616.23,20.51 616.78,20.87 617.33,20.37 617.88,21.27 618.44,19.82 618.99,20.73 619.54,19.42 620.09,19.70 620.64,20.64 621.20,20.13 621.75,20.49 622.30,19.53 622.85,20.24 623.40,19.67 623.96,19.01 624.51,19.70 625.06,21.22 625.61,19.93 626.16,21.20 626.72,19.82 627.27,20.00 627.82,19.90 628.37,20.08 628.92,19.87 629.48,19.70 630.03,18.35 630.58,19.09 631.13,17.89 631.68,18.92 632.24,19.82 632.79,20.04 633.34,20.16 633.89,19.47 634.44,20.79 635.00,20.52 635.55,20.63 636.10,20.09 636.65,19.59 637.20,20.12 637.76,21.30 638.31,21.13 638.86,19.63 639.41,19.96 639.96,19.73 640.52,20.54 641.07,20.88 641.62,20.97 642.17,19.93 642.72,19.55 643.28,23.45 643.83,20.50 644.38,19.02 644.93,19.90 645.48,21.95 646.04,20.01 646.59,20.15 647.14,20.11 647.69,20.51 648.24,18.31 648.80,19.15 649.35,19.93 649.90,18.25 650.45,18.70 651.00,20.02 651.56,21.00 652.11,20.24 652.66,20.80 653.21,20.93 653.76,20.04 654.32,18.83 654.87,18.70 655.42,19.37 655.97,19.83 656.52,20.72 657.08,20.39 657.63,19.92 658.18,20.59 658.73,21.55 659.28,20.66 659.84,20.38 660.39,20.33 660.94,20.27 661.49,20.51 662.04,20.22 662.60,21.03 663.15,20.24 663.70,19.96 664.25,20.69 664.80,20.71 665.36,21.15 665.91,19.98 666.46,19.44 667.01,18.37 667.56,18.88 668.12,19.57 668.67,19.84 669.22,20.06 669.77,20.71 670.32,19.89 670.88,19.85 671.43,18.79 671.98,21.19 672.53,20.60 673.08,21.17 673.64,20.37 674.19,20.57 674.74,20.08 675.29,19.11 675.84,18.87 676.40,20.46 676.95,20.14 677.50,20.19"/>
<polyline stroke="#00ffff" points="402.05,350.59 402.60,342.83 403.16,335.07 403.71,327.33 404.26,319.45 404.81,311.94 405.36,304.03 405.92,296.07 406.47,287.96 407.02,280.25 407.57,272.33 408.12,264.45 408.68,256.83 409.23,249.11 409.78,241.02 410.33,233.62 410.88,225.42 411.44,217.26 411.99,209.66 412.54,202.00 413.09,194.33 413.64,186.53 414.20,178.59 414.75,170.81 415.30,162.87 415.85,148.42 416.40,129.55 416.96,111.29 417.51,97.50 418.06,91.93 418.61,80.65 419.16,78.67 419.72,69.86 420.27,68.12 420.82,64.44 421.37,59.30 421.92,57.37 422.48,51.26 423.03,48.86 423.58,45.76 424.13,45.94 424.68,42.27 425.24,39.95 425.79,38.64 426.34,36.84 426.89,36.09 427.44,33.39 428.00,33.22 428.55,33.73 429.10,33.64 429.65,34.86 430.20,32.37 430.76,32.97 431.31,33.42 431.86,33.75 432.41,35.03 432.96,32.28 433.52,33.47 434.07,30.41 434.62,30.32 435.17,30.18 435.72,30.62 436.28,31.61 436.83,31.35 437.38,30.89 437.93,30.95 438.48,30.06 439.04,30.46 439.59,30.19 440.14,29.55 440.69,31.43 441.24,28.52 441.80,28.80 442.35,26.48 442.90,25.94 443.45,25.33 444.00,27.41 444.56,30.30 445.11,28.51 445.66,28.90 446.21,24.57 446.76,26.85 447.32,24.45 447.87,26.97 448.42,27.63 448.97,26.81 449.52,27.62 450.08,25.76 450.63,26.54 451.18,25.95 451.73,25.90 452.28,27.37 452.84,25.98 453.39,26.78 453.94,24.50 454.49,25.39 455.04,23.47 455.60,25.28 456.15,23.79 456.70,25.85 457.25,25.47 457.80,22.98 458.36,23.46 458.91,23.36 459.46,22.38 460.01,22.62 460.56,26.58 461.12,26.12 461.67,23.39 462.22,21.81 462.77,21.79 463.32,23.73 463.88,24.85 464.43,23.85 464.98,23.59 465.53,22.57 466.08,21.84 466.64,22.74 467.19,21.28 467.74,23.12 468.29,22.02 468.84,22.57 469.40,20.74 469.95,20.95 470.50,21.86 471.05,21.22 471.60,23.12 472.16,21.95 472.71,22.08 473.26,22.70 473.81,21.65 474.36,21.52 474.92,19.05 475.47,20.25 476.02,20.70 476.57,21.74 477.12,21.31 477.68,22.53 478.23,21.37 478.78,21.21 479.33,21.72 479.88,20.67 480.44,21.51 480.99,21.17 481.54,21.72 482.09,21.41 482.64,20.82 483.20,19.78 483.75,20.28 484.30,21.06 484.85,20.98 485.40,20.32 485.96,20.50 486.51,20.16 487.06,20.50 487.61,20.54 488.16,22.76 488.72,21.54 489.27,21.45 489.82,20.44 490.37,20.49 490.92,20.07 491.48,20.36 492.03,19.95 492.58,19.54 493.13,18.48 493.68,18.51 494.24,20.27 494.79,19.84 495.34,19.76 495.89,19.79 496.44,19.78 497.00,19.15 497.55,19.64 498.10,20.92 498.65,19.99 499.20,19.52 499.76,20.24 500.31,19.90 500.86,19.49 501.41,19.29 501.96,18.58 502.52,18.08 503.07,18.45 503.62,18.69 504.17,18.01 504.72,20.40 505.28,19.53 505.83,18.68 506.38,18.43 506.93,18.12 507.48,17.45 508.04,18.38 508.59,18.22 509.14,17.71 509.69,17.98 510.24,18.82 510.80,18.13 511.35,17.81 511.90,16.40 512.45,18.00 513.00,17.39 513.56,17.76 514.11,17.93 514.66,17.96 515.21,16.68 515.76,17.19 516.32,17.50 516.87,16.59 517.42,16.27 517.97,17.25 518.52,17.06 519.08,15.93 519.63,16.74 520.18,14.77 520.73,16.21 521.28,17.07 521.84,17.34 522.39,16.83 522.94,16.08 523.49,16.35 524.04,16.50 524.60,16.79 525.15,16.17 525.70,15.40 526.25,14.99 526.80,16.03 527.36,16.66 527.91,15.75 528.46,15.50 529.01,15.24 529.56,14.67 530.12,13.94 530.67,16.10 531.22,16.70 531.77,15.05 532.32,15.37 532.88,14.65 533.43,14.72 533.98,14.54 534.53,14.21 535.08,14.56 535.64,14.37 536.19,15.08 536.74,14.02 537.29,14.82 537.84,15.23 538.40,15.04 538.95,14.93 539.50,14.63 540.05,15.57 540.60,15.05 541.16,15.67 541.71,15.33 542.26,15.44 542.81,14.25 543.36,14.45 543.92,15.16 544.47,14.46 545.02,14.19 545.57,16.11 546.12,13.33 546.68,15.02 547.23,14.95 547.78,14.21 548.33,14.89 548.88,14.66 549.44,14.77 549.99,13.07 550.54,13.83 551.09,13.99 551.64,14.58 552.20,14.84 552.75,14.93 553.30,13.66 553.85,15.04 554.40,14.54 554.96,15.54 555.51,14.23 556.06,14.49 556.61,14.06 557.16,13.02 557.72,14.72 558.27,13.66 558.82,15.07 559.37,15.15 559.92,15.11 560.48,15.39 561.03,14.34 561.58,14.67 562.13,14.23 562.68,16.20 563.24,14.74 563.79,15.05 564.34,14.37 564.89,14.86 565.44,14.73 566.00,15.10 566.55,14.67 567.10,13.52 567.65,13.01 568.20,13.53 568.76,15.23 569.31,15.04 569.86,16.51 570.41,15.66 570.96,14.58 571.52,13.49 572.07,13.87 572.62,14.14 573.17,14.52 573.72,14.39 574.28,14.89 574.83,14.32 575.38,15.07 575.93,14.41 576.48,14.33 577.04,14.82 577.59,14.32 578.14,14.35 578.69,15.31 579.24,14.31 579.80,13.56 580.35,14.29 580.90,13.75 581.45,14.98 582.00,14.51 582.56,13.67 583.11,15.24 583.66,15.40 584.21,15.36 584.76,15.41 585.32,14.29 585.87,14.40 586.42,14.54 586.97,14.07 587.52,14.79 588.08,14.39 588.63,14.33 589.18,14.93 589.73,14.87 590.28,13.00 590.84,14.03 591.39,14.79 591.94,13.98 592.49,14.67 593.04,15.11 593.60,13.08 594.15,13.97 594.70,13.87 595.25,14.79 595.80,15.02 596.36,14.64 596.91,15.36 597.46,14.58 598.01,15.09 598.56,15.52 599.12,14.62 599.67,15.53 600.22,16.00 600.77,15.70 601.32,15.06 601.88,14.85 602.43,13.95 602.98,14.29 603.53,14.94 604.08,14.40 604.64,14.13 605.19,14.89 605.74,13.94 606.29,14.08 606.84,14.49 607.40,15.40 607.95,14.75 608.50,15.06 609.05,14.09 609.60,14.75 610.16,14.71 610.71,15.93 611.26,15.95 611.81,15.28 612.36,15.41 612.92,15.02 613.47,15.57 614.02,14.15 614.57,14.54 615.12,15.03 615.68,14.23 616.23,14.09 616.78,13.87 617.33,15.25 617.88,14.47 618.44,14.62 618.99,16.38 619.54,14.98 620.09,15.25 620.64,15.21 621.20,14.67 621.75,13.89 622.30,14.08 622.85,13.62 623.40,15.38 623.96,13.33 624.51,15.13 625.06,14.62 625.61,14.75 626.16,14.45 626.72,15.22 627.27,16.76 627.82,15.68 628.37,15.81 628.92,15.03 629.48,14.47 630.03,14.29 630.58,13.84 631.13,15.16 631.68,14.66 632.24,15.04 632.79,14.97 633.34,14.51 633.89,14.54 634.44,15.09 635.00,15.88 635.55,14.80 636.10,14.35 636.65,14.06 637.20,14.50 637.76,13.70 638.31,13.40 638.86,16.18 639.41,15.22 639.96,15.49 640.52,15.13 641.07,15.08 641.62,14.04 642.17,14.03 642.72,14.75 643.28,15.12 643.83,13.97 644.38,14.64 644.93,15.36 645.48,14.86 646.04,14.82 646.59,13.73 647.14,15.03 647.69,15.76 648.24,14.96 648.80,14.77 649.35,15.11 649.90,14.97 650.45,15.25 651.00,14.38 651.56,15.57 652.11,16.08 652.66,13.33 653.21,12.50 653.76,14.27 654.32,14.48 654.87,14.27 655.42,14.07 655.97,12.71 656.52,14.41 657.08,14.12 657.63,15.49 658.18,14.54 658.73,13.92 659.28,13.83 659.84,13.25 660.39,14.58 660.94,14.66 661.49,14.16 662.04,14.53 662.60,15.26 663.15,15.09 663.70,14.67 664.25,14.67 664.80,13.95 665.36,14.54 665.91,14.37 666.46,13.87 667.01,14.07 667.56,14.31 668.12,14.49 668.67,13.96 669.22,14.79 669.77,14.62 670.32,13.87 670.88,13.76 671.43,14.03 671.98,14.86 672.53,14.38 673.08,14.54 673.64,14.13 674.19,14.33 674.74,15.04 675.29,15.08 675.84,14.67 676.40,14.88 676.95,14.81 677.50,15.10"/>
<polyline stroke="#ff0000" points="402.05,250.23 402.60,248.56 403.16,247.32 403.71,245.42 404.26,243.24 404.81,241.54 405.36,239.61 405.92,238.11 406.47,236.47 407.02,234.61 407.57,232.86 408.12,231.15 408.68,229.77 409.23,227.66 409.78,226.07 410.33,224.01 410.88,222.38 411.44,220.71 411.99,219.05 412.54,217.44 413.09,214.66 413.64,206.32 414.20,197.85 414.75,189.43 415.30,181.02 415.85,173.23 416.40,164.62 416.96,142.99 417.51,106.14 418.06,96.27 418.61,87.69 419.16,85.18 419.72,79.44 420.27,75.34 420.82,73.32 421.37,69.86 421.92,66.18 422.48,63.11 423.03,60.05 423.58,55.13 424.13,54.54 424.68,51.33 425.24,49.25 425.79,48.65 426.34,46.35 426.89,42.08 427.44,46.83 428.00,42.95 428.55,41.90 429.10,41.14 429.65,39.61 430.20,43.09 430.76,40.06 431.31,40.06 431.86,36.60 432.41,38.66 432.96,37.99 433.52,39.71 434.07,37.81 434.62,39.39 435.17,38.59 435.72,37.02 436.28,39.75 436.83,36.44 437.38,35.77 437.93,35.28 438.48,33.73 439.04,36.28 439.59,34.42 440.14,34.83 440.69,35.31 441.24,33.58 441.80,35.85 442.35,33.50 442.90,34.82 443.45,34.86 444.00,32.37 444.56,34.05 445.11,33.07 445.66,32.30 446.21,32.56 446.76,33.09 447.32,31.88 447.87,32.11 448.42,27.76 448.97,28.38 449.52,30.03 450.08,30.37 450.63,28.05 451.18,29.14 451.73,28.68 452.28,28.16 452.84,30.90 453.39,28.90 453.94,31.69 454.49,26.35 455.04,26.45 455.60,27.03 456.15,29.99 456.70,29.12 457.25,30.62 457.80,29.02 458.36,28.26 458.91,26.72 459.46,25.69 460.01,25.65 460.56,27.38 461.12,26.73 461.67,25.81 462.22,28.51 462.77,25.94 463.32,26.43 463.88,26.37 464.43,24.76 464.98,24.20 465.53,25.12 466.08,25.52 466.64,24.53 467.19,24.53 467.74,24.78 468.29,24.04 468.84,23.61 469.40,23.57 469.95,23.06 470.50,23.41 471.05,21.74 471.60,23.71 472.16,20.99 472.71,21.84 473.26,23.59 473.81,23.76 474.36,23.60 474.92,23.22 475.47,20.31 476.02,23.39 476.57,23.71 477.12,22.61 477.68,23.10 478.23,22.22 478.78,24.01 479.33,22.83 479.88,23.52 480.44,25.68 480.99,23.10 481.54,23.03 482.09,23.64 482.64,21.61 483.20,24.47 483.75,23.48 484.30,22.82 484.85,23.94 485.40,22.22 485.96,21.32 486.51,22.11 487.06,21.43 487.61,19.33 488.16,22.05 488.72,21.78 489.27,22.51 489.82,22.54 490.37,22.30 490.92,19.96 491.48,21.12 492.03,21.78 492.58,21.22 493.13,21.42 493.68,19.84 494.24,21.42 494.79,20.76 495.34,21.38 495.89,22.01 496.44,21.50 497.00,23.30 497.55,21.73 498.10,20.75 498.65,19.87 499.20,20.65 499.76,21.68 500.31,20.68 500.86,21.28 501.41,20.55 501.96,20.00 502.52,19.01 503.07,19.19 503.62,18.80 504.17,18.87 504.72,19.72 505.28,21.69 505.83,20.52 506.38,19.28 506.93,18.99 507.48,19.21 508.04,18.80 508.59,18.44 509.14,18.19 509.69,17.94 510.24,18.84 510.80,19.06 511.35,17.81 511.90,18.34 512.45,17.89 513.00,17.73 513.56,17.80 514.11,18.25 514.66,17.55 515.21,18.18 515.76,17.87 516.32,16.96 516.87,16.86 517.42,16.83 517.97,16.35 518.52,17.18 519.08,16.89 519.63,15.07 520.18,15.52 520.73,15.88 521.28,16.36 521.84,16.04 522.39,16.70 522.94,15.53 523.49,16.27 524.04,16.34 524.60,17.29 525.15,16.14 525.70,15.37 526.25,16.18 526.80,15.73 527.36,15.43 527.91,14.92 528.46,14.59 529.01,15.79 529.56,14.52 530.12,15.17 530.67,15.15 531.22,16.78 531.77,15.79 532.32,15.92 532.88,14.49 533.43,17.05 533.98,14.38 534.53,16.34 535.08,14.35 535.64,15.42 536.19,14.75 536.74,15.42 537.29,15.69 537.84,15.33 538.40,16.56 538.95,13.60 539.50,15.22 540.05,14.49 540.60,14.45 541.16,16.36 541.71,16.23 542.26,15.73 542.81,16.48 543.36,16.17 543.92,17.42 544.47,15.78 545.02,16.90 545.57,16.30 546.12,14.65 546.68,15.40 547.23,14.58 547.78,14.29 548.33,14.99 548.88,14.72 549.44,15.01 549.99,14.06 550.54,15.28 551.09,15.00 551.64,14.05 552.20,14.82 552.75,14.32 553.30,14.73 553.85,13.50 554.40,14.20 554.96,15.14 555.51,14.66 556.06,15.04 556.61,15.71 557.16,15.29 557.72,15.58 558.27,14.31 558.82,14.10 559.37,14.01 559.92,16.58 560.48,14.65 561.03,15.18 561.58,16.25 562.13,15.33 562.68,15.62 563.24,14.41 563.79,14.71 564.34,16.17 564.89,15.21 565.44,15.48 566.00,14.69 566.55,14.43 567.10,15.10 567.65,14.76 568.20,15.61 568.76,15.07 569.31,15.23 569.86,14.42 570.41,15.55 570.96,14.48 571.52,15.43 572.07,15.14 572.62,13.37 573.17,13.04 573.72,14.56 574.28,14.32 574.83,13.80 575.38,15.49 575.93,15.05 576.48,15.17 577.04,14.43 577.59,14.69 578.14,14.38 578.69,13.60 579.24,14.07 579.80,14.36 580.35,14.54 580.90,13.98 581.45,14.94 582.00,14.25 582.56,14.62 583.11,15.91 583.66,14.83 584.21,15.13 584.76,14.24 585.32,13.88 585.87,14.43 586.42,14.17 586.97,13.67 587.52,13.03 588.08,14.39 588.63,14.49 589.18,14.85 589.73,18.36 590.28,13.11 590.84,13.49 591.39,14.79 591.94,14.43 592.49,13.55 593.04,13.98 593.60,12.31 594.15,13.88 594.70,13.91 595.25,14.21 595.80,14.34 596.36,13.62 596.91,14.00 597.46,14.83 598.01,12.75 598.56,13.81 599.12,14.70 599.67,13.99 600.22,13.33 600.77,14.77 601.32,13.99 601.88,13.88 602.43,13.88 602.98,14.72 603.53,14.53 604.08,12.63 604.64,14.36 605.19,14.93 605.74,15.08 606.29,14.33 606.84,13.44 607.40,14.50 607.95,15.32 608.50,14.54 609.05,13.98 609.60,13.92 610.16,14.51 610.71,15.44 611.26,13.68 611.81,13.63 612.36,13.29 612.92,14.27 613.47,14.26 614.02,15.45 614.57,14.71 615.12,13.41 615.68,15.31 616.23,13.97 616.78,15.23 617.33,14.06 617.88,14.33 618.44,13.83 618.99,13.84 619.54,15.11 620.09,14.90 620.64,16.35 621.20,15.07 621.75,14.85 622.30,14.72 622.85,13.37 623.40,13.10 623.96,12.68 624.51,16.89 625.06,14.63 625.61,18.37 626.16,14.16 626.72,13.18 627.27,14.93 627.82,15.26 628.37,14.26 628.92,15.56 629.48,13.85 630.03,13.82 630.58,13.67 631.13,14.14 631.68,13.29 632.24,14.45 632.79,14.52 633.34,13.40 633.89,14.01 634.44,14.38 635.00,13.20 635.55,14.24 636.10,15.01 636.65,15.48 637.20,14.14 637.76,14.10 638.31,14.78 638.86,13.93 639.41,16.02 639.96,14.91 640.52,14.16 641.07,13.03 641.62,14.96 642.17,15.09 642.72,14.39 643.28,14.07 643.83,13.91 644.38,13.42 644.93,13.48 645.48,14.29 646.04,14.53 646.59,14.01 647.14,14.19 647.69,14.47 648.24,14.40 648.80,14.56 649.35,14.36 649.90,14.10 650.45,14.30 651.00,13.95 651.56,14.49 652.11,13.19 652.66,13.01 653.21,13.80 653.76,14.95 654.32,14.12 654.87,13.56 655.42,15.26 655.97,13.84 656.52,14.20 657.08,13.78 657.63,11.90 658.18,12.97 658.73,12.89 659.28,13.47 659.84,14.77 660.39,13.67 660.94,13.83 661.49,15.28 662.04,15.55 662.60,16.29 663.15,15.14 663.70,14.38 664.25,13.81 664.80,13.20 665.36,14.48 665.91,15.95 666.46,14.41 667.01,14.54 667.56,14.32 668.12,13.94 668.67,13.64 669.22,15.44 669.77,14.36 670.32,13.72 670.88,14.34 671.43,15.84 671.98,14.50 672.53,13.29 673.08,12.83 673.64,13.63 674.19,12.39 674.74,12.47 675.29,14.05 675.84,13.65 676.40,13.59 676.95,13.34 677.50,13.51"/>
</g>
<rect x="401.5" y="3.5" width="276.0" height="217.5" fill="none" stroke="#8a8a8a" stroke-width="1"/>
<path d="M401.5,221.00h2.8M677.5,221.00h-2.8M401.5,193.81h2.8M677.5,193.81h-2.8M401.5,166.62h2.8M677.5,166.62h-2.8M401.5,139.44h2.8M677.5,139.44h-2.8M401.5,112.25h2.8M677.5,112.25h-2.8M401.5,85.06h2.8M677.5,85.06h-2.8M401.5,57.88h2.8M677.5,57.88h-2.8M401.5,30.69h2.8M677.5,30.69h-2.8M401.5,3.50h2.8M677.5,3.50h-2.8M401.50,221.0v-2.8M401.50,3.5v2.8M456.70,221.0v-2.8M456.70,3.5v2.8M511.90,221.0v-2.8M511.90,3.5v2.8M567.10,221.0v-2.8M567.10,3.5v2.8M622.30,221.0v-2.8M622.30,3.5v2.8M677.50,221.0v-2.8M677.50,3.5v2.8" stroke="#404040" stroke-width="0.9" fill="none"/>
<text class="s" transform="translate(397.00,224.15) scale(1,1.07)" font-size="8.3" text-anchor="end" fill="#000000">0.82</text>
<text class="s" transform="translate(397.00,196.96) scale(1,1.07)" font-size="8.3" text-anchor="end" fill="#000000">0.83</text>
<text class="s" transform="translate(397.00,169.77) scale(1,1.07)" font-size="8.3" text-anchor="end" fill="#000000">0.84</text>
<text class="s" transform="translate(397.00,142.59) scale(1,1.07)" font-size="8.3" text-anchor="end" fill="#000000">0.85</text>
<text class="s" transform="translate(397.00,115.40) scale(1,1.07)" font-size="8.3" text-anchor="end" fill="#000000">0.86</text>
<text class="s" transform="translate(397.00,88.21) scale(1,1.07)" font-size="8.3" text-anchor="end" fill="#000000">0.87</text>
<text class="s" transform="translate(397.00,61.03) scale(1,1.07)" font-size="8.3" text-anchor="end" fill="#000000">0.88</text>
<text class="s" transform="translate(397.00,33.84) scale(1,1.07)" font-size="8.3" text-anchor="end" fill="#000000">0.89</text>
<text class="s" transform="translate(397.00,6.65) scale(1,1.07)" font-size="8.3" text-anchor="end" fill="#000000">0.9</text>
<text class="s" transform="translate(401.50,233.5) scale(1,1.07)" font-size="8.3" text-anchor="middle" fill="#000000">0</text>
<text class="s" transform="translate(456.70,233.5) scale(1,1.07)" font-size="8.3" text-anchor="middle" fill="#000000">100</text>
<text class="s" transform="translate(511.90,233.5) scale(1,1.07)" font-size="8.3" text-anchor="middle" fill="#000000">200</text>
<text class="s" transform="translate(567.10,233.5) scale(1,1.07)" font-size="8.3" text-anchor="middle" fill="#000000">300</text>
<text class="s" transform="translate(622.30,233.5) scale(1,1.07)" font-size="8.3" text-anchor="middle" fill="#000000">400</text>
<text class="s" transform="translate(677.50,233.5) scale(1,1.07)" font-size="8.3" text-anchor="middle" fill="#000000">500</text>
<text class="t" x="170.4" y="245.3" font-size="9.3" text-anchor="middle" fill="#000000">Epoch</text>
<text class="t" x="539.6" y="245.3" font-size="9.3" text-anchor="middle" fill="#000000">Epoch</text>
<text class="t" transform="translate(9.3,111.5) rotate(-90)" font-size="9.3" text-anchor="middle" fill="#000000">PSNR(dB)</text>
<text class="t" transform="translate(377.0,112.4) rotate(-90)" textLength="21.4" lengthAdjust="spacingAndGlyphs" font-size="9.3" text-anchor="middle" fill="#000000">SSIM</text>
<rect x="160.5" y="50.5" width="71.0" height="65.5" fill="#fff" stroke="none"/>
<g clip-path="url(#cli)" fill="none" stroke-width="1.05" stroke-linejoin="round">
<polyline stroke="#00ff00" points="159.79,81.96 160.50,78.72 161.21,94.73 161.92,83.20 162.63,77.75 163.34,82.91 164.05,86.03 164.76,82.59 165.47,81.72 166.18,77.37 166.89,86.50 167.60,86.01 168.31,81.86 169.02,87.10 169.73,86.84 170.44,82.80 171.15,85.28 171.86,83.12 172.57,87.02 173.28,84.04 173.99,84.80 174.70,86.88 175.41,83.44 176.12,80.44 176.83,81.61 177.54,87.71 178.25,82.20 178.96,82.65 179.67,82.82 180.38,93.84 181.09,81.62 181.80,90.52 182.51,92.16 183.22,72.93 183.93,87.27 184.64,84.88 185.35,87.49 186.06,78.40 186.77,85.74 187.48,82.65 188.19,82.50 188.90,85.80 189.61,77.20 190.32,84.72 191.03,82.05 191.74,76.24 192.45,80.42 193.16,77.81 193.87,84.38 194.58,71.49 195.29,86.80 196.00,85.74 196.71,81.57 197.42,89.01 198.13,95.98 198.84,93.04 199.55,88.47 200.26,78.61 200.97,83.83 201.68,84.59 202.39,87.14 203.10,87.84 203.81,75.45 204.52,81.39 205.23,80.32 205.94,81.80 206.65,85.93 207.36,83.48 208.07,78.01 208.78,85.05 209.49,85.80 210.20,79.56 210.91,84.79 211.62,79.43 212.33,83.60 213.04,86.57 213.75,77.59 214.46,88.09 215.17,92.98 215.88,83.13 216.59,73.74 217.30,84.62 218.01,84.98 218.72,87.64 219.43,86.39 220.14,83.59 220.85,76.80 221.56,82.28 222.27,78.31 222.98,85.17 223.69,88.51 224.40,77.84 225.11,84.10 225.82,75.79 226.53,83.42 227.24,83.18 227.95,89.04 228.66,70.90 229.37,75.66 230.08,78.79 230.79,81.94 231.50,82.86"/>
<polyline stroke="#0000ff" points="159.79,100.99 160.50,98.79 161.21,100.76 161.92,107.89 162.63,108.07 163.34,102.12 164.05,89.64 164.76,103.21 165.47,102.75 166.18,108.53 166.89,108.24 167.60,103.76 168.31,100.56 169.02,96.14 169.73,97.27 170.44,101.79 171.15,105.09 171.86,97.78 172.57,105.33 173.28,101.82 173.99,100.77 174.70,101.85 175.41,104.88 176.12,102.70 176.83,102.90 177.54,107.41 178.25,99.27 178.96,106.47 179.67,108.69 180.38,101.88 181.09,99.61 181.80,99.53 182.51,104.66 183.22,105.60 183.93,103.70 184.64,104.11 185.35,112.43 186.06,105.53 186.77,107.46 187.48,104.93 188.19,114.53 188.90,100.98 189.61,94.48 190.32,94.54 191.03,100.22 191.74,94.95 192.45,104.57 193.16,103.64 193.87,100.56 194.58,100.00 195.29,103.61 196.00,101.15 196.71,106.15 197.42,102.05 198.13,104.36 198.84,103.97 199.55,108.55 200.26,102.85 200.97,101.33 201.68,90.90 202.39,99.17 203.10,111.85 203.81,97.88 204.52,98.57 205.23,96.94 205.94,96.47 206.65,103.31 207.36,106.72 208.07,108.06 208.78,96.66 209.49,105.51 210.20,104.90 210.91,106.72 211.62,103.44 212.33,101.87 213.04,102.19 213.75,108.17 214.46,107.48 215.17,99.40 215.88,99.51 216.59,96.03 217.30,100.88 218.01,105.88 218.72,102.12 219.43,102.87 220.14,99.81 220.85,113.61 221.56,101.26 222.27,89.51 222.98,104.09 223.69,104.87 224.40,106.48 225.11,101.54 225.82,100.76 226.53,99.91 227.24,99.09 227.95,105.86 228.66,104.10 229.37,103.56 230.08,99.42 230.79,101.59 231.50,100.41"/>
<polyline stroke="#00ffff" points="159.79,78.90 160.50,74.82 161.21,73.15 161.92,70.19 162.63,68.93 163.34,75.71 164.05,80.31 164.76,80.59 165.47,77.72 166.18,66.12 166.89,66.36 167.60,62.69 168.31,71.13 169.02,76.31 169.73,70.17 170.44,76.61 171.15,75.53 171.86,79.90 172.57,69.32 173.28,68.14 173.99,72.68 174.70,74.16 175.41,77.74 176.12,79.89 176.83,73.14 177.54,73.58 178.25,78.62 178.96,75.47 179.67,74.47 180.38,76.99 181.09,74.29 181.80,70.39 182.51,79.26 183.22,83.44 183.93,77.26 184.64,75.30 185.35,73.43 186.06,70.46 186.77,78.51 187.48,74.67 188.19,72.56 188.90,69.89 189.61,72.10 190.32,72.13 191.03,74.97 191.74,75.09 192.45,80.08 193.16,73.86 193.87,72.70 194.58,77.04 195.29,65.33 196.00,74.50 196.71,68.01 197.42,76.51 198.13,71.10 198.84,73.61 199.55,73.96 200.26,74.49 200.97,69.95 201.68,73.85 202.39,70.90 203.10,72.49 203.81,78.60 204.52,75.00 205.23,74.47 205.94,68.33 206.65,79.34 207.36,72.96 208.07,66.68 208.78,72.31 209.49,80.81 210.20,77.37 210.91,73.62 211.62,76.09 212.33,75.22 213.04,75.59 213.75,66.98 214.46,72.41 215.17,79.29 215.88,75.92 216.59,74.36 217.30,62.41 218.01,75.06 218.72,76.16 219.43,71.71 220.14,74.84 220.85,71.53 221.56,73.39 222.27,78.04 222.98,74.27 223.69,80.49 224.40,77.36 225.11,68.11 225.82,75.00 226.53,71.37 227.24,72.34 227.95,85.54 228.66,64.96 229.37,73.84 230.08,75.50 230.79,74.02 231.50,69.63"/>
<polyline stroke="#ff0000" points="159.79,61.08 160.50,57.61 161.21,71.96 161.92,70.12 162.63,71.54 163.34,61.44 164.05,62.46 164.76,66.03 165.47,63.72 166.18,59.51 166.89,70.99 167.60,68.56 168.31,69.82 169.02,72.32 169.73,70.94 170.44,62.53 171.15,69.56 171.86,68.68 172.57,69.78 173.28,70.58 173.99,66.93 174.70,68.09 175.41,63.38 176.12,58.87 176.83,62.77 177.54,56.00 178.25,59.09 178.96,62.35 179.67,63.40 180.38,69.27 181.09,72.58 181.80,69.23 182.51,61.38 183.22,62.91 183.93,67.18 184.64,70.44 185.35,74.65 186.06,66.63 186.77,64.56 187.48,74.09 188.19,64.97 188.90,65.15 189.61,57.75 190.32,63.46 191.03,70.64 191.74,64.11 192.45,70.15 193.16,70.85 193.87,70.28 194.58,69.64 195.29,68.65 196.00,70.92 196.71,68.14 197.42,62.31 198.13,68.79 198.84,63.65 199.55,69.16 200.26,52.85 200.97,71.45 201.68,69.17 202.39,52.77 203.10,64.88 203.81,64.26 204.52,63.38 205.23,69.90 205.94,71.30 206.65,60.80 207.36,62.82 208.07,63.54 208.78,64.52 209.49,67.00 210.20,61.77 210.91,70.13 211.62,60.25 212.33,59.63 213.04,65.02 213.75,62.47 214.46,54.11 215.17,64.25 215.88,64.42 216.59,64.57 217.30,58.61 218.01,63.36 218.72,58.71 219.43,61.20 220.14,61.78 220.85,72.10 221.56,66.79 222.27,69.26 222.98,65.20 223.69,65.47 224.40,55.09 225.11,69.37 225.82,62.03 226.53,60.66 227.24,65.56 227.95,70.45 228.66,73.74 229.37,63.22 230.08,63.41 230.79,67.56 231.50,69.36"/>
</g>
<rect x="160.5" y="50.5" width="71.0" height="65.5" fill="none" stroke="#7c7c7c" stroke-width="0.95"/>
<path d="M160.5,61.30h1.5M231.5,61.30h-1.5M160.5,84.05h1.5M231.5,84.05h-1.5M160.5,106.80h1.5M231.5,106.80h-1.5M160.50,116.0v-1.5M160.50,50.5v1.5M196.00,116.0v-1.5M196.00,50.5v1.5M231.50,116.0v-1.5M231.50,50.5v1.5" stroke="#404040" stroke-width="0.8" fill="none"/>
<text class="s" x="159.00" y="63.80" font-size="6.95" text-anchor="end" fill="#000000">32.3</text>
<text class="s" x="159.00" y="86.55" font-size="6.95" text-anchor="end" fill="#000000">32.2</text>
<text class="s" x="159.00" y="109.30" font-size="6.95" text-anchor="end" fill="#000000">32.1</text>
<text class="s" x="160.50" y="125.5" font-size="6.95" text-anchor="middle" fill="#000000">400</text>
<text class="s" x="196.00" y="125.5" font-size="6.95" text-anchor="middle" fill="#000000">450</text>
<text class="s" x="231.50" y="125.5" font-size="6.95" text-anchor="middle" fill="#000000">500</text>
<rect x="529.5" y="50.5" width="71.0" height="65.5" fill="#fff" stroke="none"/>
<g clip-path="url(#cri)" fill="none" stroke-width="1.05" stroke-linejoin="round">
<polyline stroke="#00ff00" points="528.79,87.24 529.50,97.64 530.21,92.45 530.92,90.86 531.63,79.13 532.34,88.99 533.05,91.90 533.76,87.76 534.47,89.32 535.18,89.10 535.89,92.96 536.60,90.59 537.31,93.74 538.02,91.56 538.73,91.44 539.44,92.86 540.15,90.31 540.86,82.92 541.57,87.67 542.28,94.53 542.99,95.31 543.70,88.96 544.41,88.87 545.12,80.26 545.83,84.67 546.54,85.03 547.25,86.16 547.96,98.86 548.67,80.28 549.38,89.54 550.09,88.02 550.80,90.36 551.51,90.38 552.22,85.81 552.93,78.41 553.64,86.50 554.35,79.40 555.06,82.36 555.77,87.03 556.48,87.56 557.19,96.46 557.90,93.78 558.61,88.48 559.32,84.89 560.03,86.10 560.74,82.03 561.45,84.67 562.16,93.15 562.87,90.53 563.58,90.22 564.29,85.21 565.00,86.21 565.71,81.21 566.42,78.28 567.13,83.54 567.84,91.18 568.55,82.16 569.26,84.27 569.97,85.37 570.68,89.04 571.39,89.26 572.10,87.77 572.81,90.21 573.52,97.22 574.23,87.58 574.94,88.05 575.65,87.60 576.36,87.00 577.07,85.07 577.78,85.64 578.49,84.04 579.20,80.85 579.91,82.91 580.62,87.50 581.33,85.66 582.04,88.78 582.75,87.24 583.46,87.08 584.17,90.17 584.88,88.37 585.59,82.03 586.30,82.52 587.01,83.63 587.72,87.08 588.43,84.38 589.14,82.65 589.85,89.87 590.56,85.59 591.27,80.97 591.98,84.01 592.69,83.45 593.40,89.22 594.11,88.92 594.82,91.32 595.53,83.52 596.24,85.25 596.95,86.69 597.66,87.57 598.37,91.45 599.08,86.65 599.79,84.78 600.50,92.72"/>
<polyline stroke="#0000ff" points="528.79,103.69 529.50,97.95 530.21,102.19 530.92,98.78 531.63,94.80 532.34,98.95 533.05,108.07 533.76,100.36 534.47,107.98 535.18,99.66 535.89,100.76 536.60,100.16 537.31,101.25 538.02,99.94 538.73,98.95 539.44,90.81 540.15,95.26 540.86,88.02 541.57,94.25 542.28,99.70 542.99,100.99 543.70,101.69 544.41,97.59 545.12,105.52 545.83,103.86 546.54,104.54 547.25,101.29 547.96,98.31 548.67,101.46 549.38,108.58 550.09,107.58 550.80,98.53 551.51,100.53 552.22,99.15 552.93,103.98 553.64,106.07 554.35,106.57 555.06,100.33 555.77,98.05 556.48,121.51 557.19,103.76 557.90,94.86 558.61,100.14 559.32,112.49 560.03,100.80 560.74,101.68 561.45,101.41 562.16,103.84 562.87,90.60 563.58,95.65 564.29,100.32 565.00,90.24 565.71,92.95 566.42,100.85 567.13,106.79 567.84,102.22 568.55,105.59 569.26,106.35 569.97,101.00 570.68,93.68 571.39,92.93 572.10,96.99 572.81,99.71 573.52,105.10 574.23,103.08 574.94,100.29 575.65,104.28 576.36,110.09 577.07,104.76 577.78,103.02 578.49,102.75 579.20,102.35 579.91,103.81 580.62,102.08 581.33,106.99 582.04,102.21 582.75,100.49 583.46,104.93 584.17,105.01 584.88,107.66 585.59,100.66 586.30,97.36 587.01,90.92 587.72,94.03 588.43,98.14 589.14,99.78 589.85,101.10 590.56,105.06 591.27,100.08 591.98,99.85 592.69,93.47 593.40,107.92 594.11,104.36 594.82,107.83 595.53,102.99 596.24,104.20 596.95,101.26 597.66,95.38 598.37,93.96 599.08,103.53 599.79,101.60 600.50,101.91"/>
<polyline stroke="#00ffff" points="528.79,63.93 529.50,65.08 530.21,62.34 530.92,72.90 531.63,60.59 532.34,71.42 533.05,68.33 533.76,69.13 534.47,67.33 535.18,71.94 535.89,81.24 536.60,74.76 537.31,75.53 538.02,70.80 538.73,67.45 539.44,66.39 540.15,63.63 540.86,71.59 541.57,68.59 542.28,70.88 542.99,70.46 543.70,67.66 544.41,67.87 545.12,71.16 545.83,75.95 546.54,69.46 547.25,66.70 547.96,64.98 548.67,67.65 549.38,62.78 550.09,61.03 550.80,77.75 551.51,71.96 552.22,73.58 552.93,71.44 553.64,71.11 554.35,64.83 555.06,64.82 555.77,69.11 556.48,71.35 557.19,64.44 557.90,68.49 558.61,72.78 559.32,69.80 560.03,69.56 560.74,63.00 561.45,70.84 562.16,75.19 562.87,70.38 563.58,69.23 564.29,71.33 565.00,70.43 565.71,72.16 566.42,66.93 567.13,74.09 567.84,77.12 568.55,60.58 569.26,55.60 569.97,66.22 570.68,67.52 571.39,66.25 572.10,65.05 572.81,56.83 573.52,67.06 574.23,65.34 574.94,73.60 575.65,67.88 576.36,64.14 577.07,63.57 577.78,60.11 578.49,68.11 579.20,68.61 579.91,65.57 580.62,67.82 581.33,72.19 582.04,71.19 582.75,68.66 583.46,68.67 584.17,64.33 584.88,67.85 585.59,66.83 586.30,63.85 587.01,65.07 587.72,66.50 588.43,67.55 589.14,64.35 589.85,69.40 590.56,68.37 591.27,63.81 591.98,63.14 592.69,64.80 593.40,69.80 594.11,66.90 594.82,67.88 595.53,65.40 596.24,66.62 596.95,70.88 597.66,71.12 598.37,68.64 599.08,69.92 599.79,69.52 600.50,71.24"/>
<polyline stroke="#ff0000" points="528.79,69.76 529.50,68.92 530.21,60.84 530.92,59.19 531.63,56.64 532.34,82.04 533.05,68.40 533.76,90.96 534.47,65.59 535.18,59.65 535.89,70.22 536.60,72.22 537.31,66.16 538.02,74.01 538.73,63.69 539.44,63.54 540.15,62.64 540.86,65.48 541.57,60.33 542.28,67.32 542.99,67.77 543.70,60.98 544.41,64.65 545.12,66.91 545.83,59.78 546.54,66.05 547.25,70.72 547.96,73.52 548.67,65.43 549.38,65.24 550.09,69.34 550.80,64.21 551.51,76.81 552.22,70.12 552.93,65.55 553.64,58.75 554.35,70.38 555.06,71.19 555.77,66.97 556.48,65.04 557.19,64.05 557.90,61.15 558.61,61.49 559.32,66.38 560.03,67.82 560.74,64.70 561.45,65.75 562.16,67.48 562.87,67.01 563.58,68.01 564.29,66.76 565.00,65.21 565.71,66.42 566.42,64.32 567.13,67.57 567.84,59.72 568.55,58.66 569.26,63.38 569.97,70.35 570.68,65.31 571.39,61.98 572.10,72.22 572.81,63.62 573.52,65.79 574.23,63.31 574.94,51.97 575.65,58.39 576.36,57.93 577.07,61.44 577.78,69.23 578.49,62.62 579.20,63.58 579.91,72.32 580.62,73.95 581.33,78.43 582.04,71.50 582.75,66.88 583.46,63.46 584.17,59.77 584.88,67.53 585.59,76.35 586.30,67.10 587.01,67.85 587.72,66.53 588.43,64.25 589.14,62.45 589.85,73.30 590.56,66.81 591.27,62.95 591.98,66.64 592.69,75.72 593.40,67.62 594.11,60.32 594.82,57.56 595.53,62.36 596.24,54.95 596.95,55.42 597.66,64.89 598.37,62.50 599.08,62.13 599.79,60.65 600.50,61.69"/>
</g>
<rect x="529.5" y="50.5" width="71.0" height="65.5" fill="none" stroke="#7c7c7c" stroke-width="0.95"/>
<path d="M529.5,50.50h1.5M600.5,50.50h-1.5M529.5,66.88h1.5M600.5,66.88h-1.5M529.5,83.25h1.5M600.5,83.25h-1.5M529.5,99.63h1.5M600.5,99.63h-1.5M529.5,116.00h1.5M600.5,116.00h-1.5M529.50,116.0v-1.5M529.50,50.5v1.5M565.00,116.0v-1.5M565.00,50.5v1.5M600.50,116.0v-1.5M600.50,50.5v1.5" stroke="#404040" stroke-width="0.8" fill="none"/>
<text class="s" x="528.00" y="53.00" font-size="6.95" text-anchor="end" fill="#000000">0.897</text>
<text class="s" x="528.00" y="69.38" font-size="6.95" text-anchor="end" fill="#000000">0.896</text>
<text class="s" x="528.00" y="85.75" font-size="6.95" text-anchor="end" fill="#000000">0.895</text>
<text class="s" x="528.00" y="102.13" font-size="6.95" text-anchor="end" fill="#000000">0.894</text>
<text class="s" x="528.00" y="118.50" font-size="6.95" text-anchor="end" fill="#000000">0.893</text>
<text class="s" x="529.50" y="125.5" font-size="6.95" text-anchor="middle" fill="#000000">400</text>
<text class="s" x="565.00" y="125.5" font-size="6.95" text-anchor="middle" fill="#000000">450</text>
<text class="s" x="600.50" y="125.5" font-size="6.95" text-anchor="middle" fill="#000000">500</text>
<rect x="206.5" y="168.5" width="95.0" height="46.0" fill="#fff" stroke="#333" stroke-width="0.9"/>
<line x1="208.80" y1="174.80" x2="234.20" y2="174.80" stroke="#00ff00" stroke-width="1" opacity="0.85"/>
<text class="t" x="236.90" y="178.20" font-size="9.3" fill="#111">IFIN w/o SAAB</text>
<line x1="208.80" y1="185.80" x2="234.20" y2="185.80" stroke="#0000ff" stroke-width="1" opacity="0.85"/>
<text class="t" x="236.90" y="189.20" font-size="9.3" fill="#111">IFIN w/o SWTB</text>
<line x1="208.80" y1="196.80" x2="234.20" y2="196.80" stroke="#00ffff" stroke-width="1" opacity="0.85"/>
<text class="t" x="236.90" y="200.20" font-size="9.3" fill="#111">IFIN w/o ESAB</text>
<line x1="208.80" y1="207.80" x2="234.20" y2="207.80" stroke="#ff0000" stroke-width="1" opacity="0.85"/>
<text class="t" x="236.90" y="211.20" font-size="9.3" fill="#111">IFIN</text>
<rect x="575.5" y="168.5" width="95.5" height="46.0" fill="#fff" stroke="#333" stroke-width="0.9"/>
<line x1="577.80" y1="174.80" x2="603.20" y2="174.80" stroke="#00ff00" stroke-width="1" opacity="0.85"/>
<text class="t" x="605.90" y="178.20" font-size="9.3" fill="#111">IFIN w/o SAAB</text>
<line x1="577.80" y1="185.80" x2="603.20" y2="185.80" stroke="#0000ff" stroke-width="1" opacity="0.85"/>
<text class="t" x="605.90" y="189.20" font-size="9.3" fill="#111">IFIN w/o SWTB</text>
<line x1="577.80" y1="196.80" x2="603.20" y2="196.80" stroke="#00ffff" stroke-width="1" opacity="0.85"/>
<text class="t" x="605.90" y="200.20" font-size="9.3" fill="#111">IFIN w/o ESAB</text>
<line x1="577.80" y1="207.80" x2="603.20" y2="207.80" stroke="#ff0000" stroke-width="1" opacity="0.85"/>
<text class="t" x="605.90" y="211.20" font-size="9.3" fill="#111">IFIN</text>
<text class="t" x="112.2" y="269.6" font-size="12.6" fill="#111">(a)</text><text class="t" x="131.0" y="269.6" font-size="12.6" fill="#111">PSNR vs. Epoch</text>
<text class="t" x="481.6" y="269.6" font-size="12.6" fill="#111">(b)</text><text class="t" x="501.3" y="269.6" font-size="12.6" fill="#111">SSIM vs. Epoch</text>
</g></svg></div></body></html>
